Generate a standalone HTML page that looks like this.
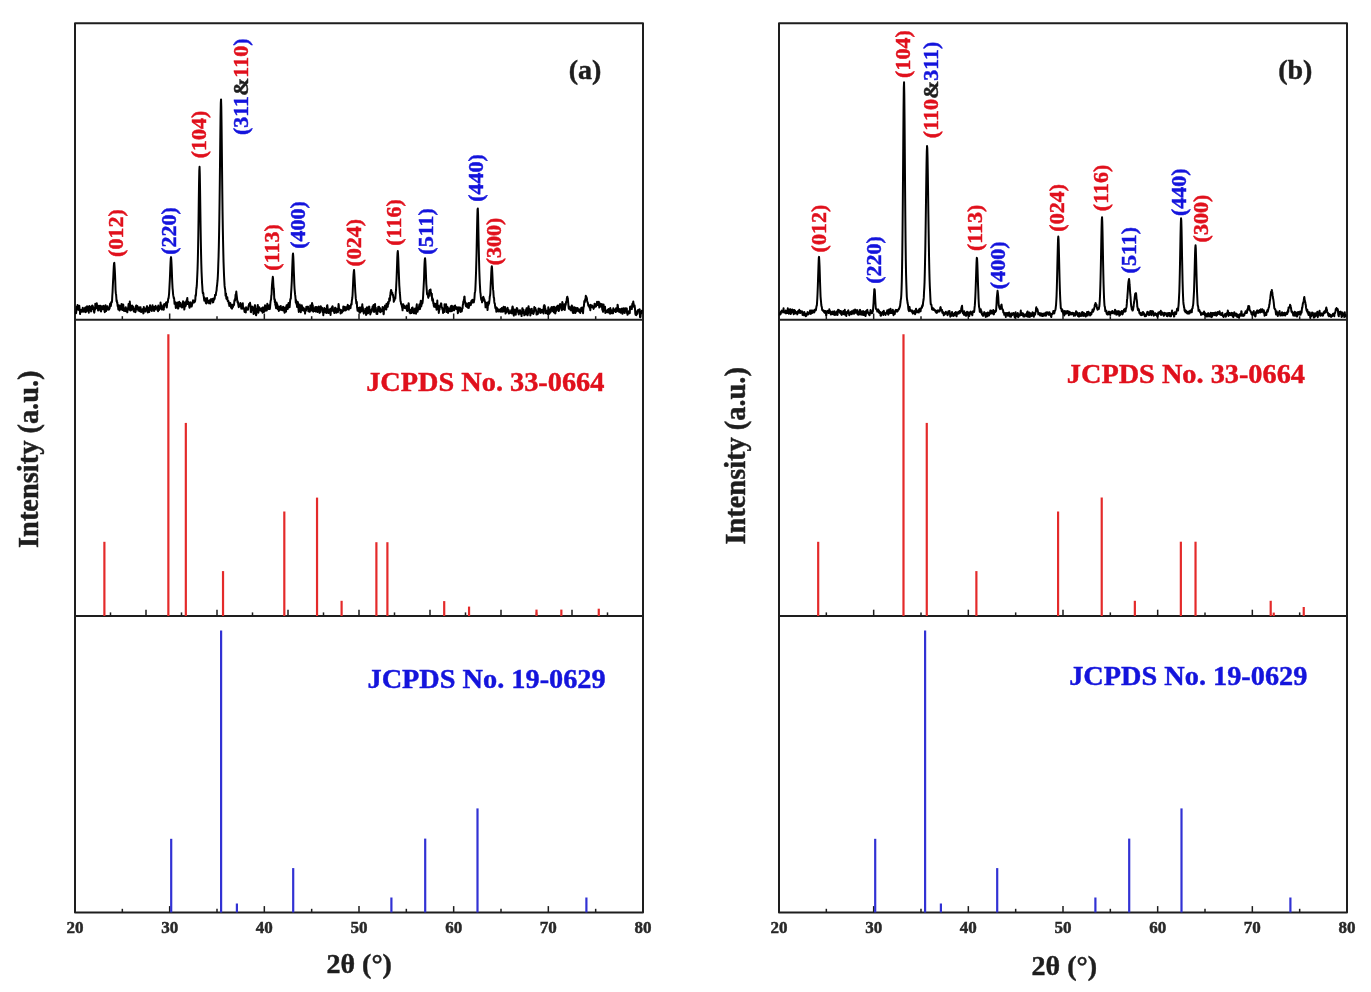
<!DOCTYPE html>
<html><head><meta charset="utf-8"><title>XRD patterns</title>
<style>html,body{margin:0;padding:0;background:#fff;}svg{display:block;will-change:transform;}</style>
</head><body>
<svg width="1371" height="992" viewBox="0 0 1371 992" font-family="'Liberation Serif', serif" font-weight="bold">
<rect width="1371" height="992" fill="#fff"/>
<rect x="75.00" y="23.30" width="568.00" height="889.10" fill="none" stroke="#1e1e1e" stroke-width="2.0" stroke-linejoin="round"/>
<line x1="75.00" y1="319.80" x2="643.00" y2="319.80" stroke="#1e1e1e" stroke-width="1.9" stroke-linecap="butt"/>
<line x1="75.00" y1="616.00" x2="643.00" y2="616.00" stroke="#1e1e1e" stroke-width="1.9" stroke-linecap="butt"/>
<line x1="122.33" y1="319.80" x2="122.33" y2="316.20" stroke="#1e1e1e" stroke-width="1.5" stroke-linecap="butt"/>
<line x1="169.67" y1="319.80" x2="169.67" y2="313.50" stroke="#1e1e1e" stroke-width="1.5" stroke-linecap="butt"/>
<line x1="217.00" y1="319.80" x2="217.00" y2="316.20" stroke="#1e1e1e" stroke-width="1.5" stroke-linecap="butt"/>
<line x1="264.33" y1="319.80" x2="264.33" y2="313.50" stroke="#1e1e1e" stroke-width="1.5" stroke-linecap="butt"/>
<line x1="311.67" y1="319.80" x2="311.67" y2="316.20" stroke="#1e1e1e" stroke-width="1.5" stroke-linecap="butt"/>
<line x1="359.00" y1="319.80" x2="359.00" y2="313.50" stroke="#1e1e1e" stroke-width="1.5" stroke-linecap="butt"/>
<line x1="406.33" y1="319.80" x2="406.33" y2="316.20" stroke="#1e1e1e" stroke-width="1.5" stroke-linecap="butt"/>
<line x1="453.67" y1="319.80" x2="453.67" y2="313.50" stroke="#1e1e1e" stroke-width="1.5" stroke-linecap="butt"/>
<line x1="501.00" y1="319.80" x2="501.00" y2="316.20" stroke="#1e1e1e" stroke-width="1.5" stroke-linecap="butt"/>
<line x1="548.33" y1="319.80" x2="548.33" y2="313.50" stroke="#1e1e1e" stroke-width="1.5" stroke-linecap="butt"/>
<line x1="595.67" y1="319.80" x2="595.67" y2="316.20" stroke="#1e1e1e" stroke-width="1.5" stroke-linecap="butt"/>
<line x1="122.33" y1="912.40" x2="122.33" y2="908.80" stroke="#1e1e1e" stroke-width="1.5" stroke-linecap="butt"/>
<line x1="169.67" y1="912.40" x2="169.67" y2="906.10" stroke="#1e1e1e" stroke-width="1.5" stroke-linecap="butt"/>
<line x1="217.00" y1="912.40" x2="217.00" y2="908.80" stroke="#1e1e1e" stroke-width="1.5" stroke-linecap="butt"/>
<line x1="264.33" y1="912.40" x2="264.33" y2="906.10" stroke="#1e1e1e" stroke-width="1.5" stroke-linecap="butt"/>
<line x1="311.67" y1="912.40" x2="311.67" y2="908.80" stroke="#1e1e1e" stroke-width="1.5" stroke-linecap="butt"/>
<line x1="359.00" y1="912.40" x2="359.00" y2="906.10" stroke="#1e1e1e" stroke-width="1.5" stroke-linecap="butt"/>
<line x1="406.33" y1="912.40" x2="406.33" y2="908.80" stroke="#1e1e1e" stroke-width="1.5" stroke-linecap="butt"/>
<line x1="453.67" y1="912.40" x2="453.67" y2="906.10" stroke="#1e1e1e" stroke-width="1.5" stroke-linecap="butt"/>
<line x1="501.00" y1="912.40" x2="501.00" y2="908.80" stroke="#1e1e1e" stroke-width="1.5" stroke-linecap="butt"/>
<line x1="548.33" y1="912.40" x2="548.33" y2="906.10" stroke="#1e1e1e" stroke-width="1.5" stroke-linecap="butt"/>
<line x1="595.67" y1="912.40" x2="595.67" y2="908.80" stroke="#1e1e1e" stroke-width="1.5" stroke-linecap="butt"/>
<rect x="779.00" y="23.30" width="568.00" height="889.10" fill="none" stroke="#1e1e1e" stroke-width="2.0" stroke-linejoin="round"/>
<line x1="779.00" y1="319.80" x2="1347.00" y2="319.80" stroke="#1e1e1e" stroke-width="1.9" stroke-linecap="butt"/>
<line x1="779.00" y1="616.00" x2="1347.00" y2="616.00" stroke="#1e1e1e" stroke-width="1.9" stroke-linecap="butt"/>
<line x1="826.33" y1="319.80" x2="826.33" y2="316.20" stroke="#1e1e1e" stroke-width="1.5" stroke-linecap="butt"/>
<line x1="873.67" y1="319.80" x2="873.67" y2="313.50" stroke="#1e1e1e" stroke-width="1.5" stroke-linecap="butt"/>
<line x1="921.00" y1="319.80" x2="921.00" y2="316.20" stroke="#1e1e1e" stroke-width="1.5" stroke-linecap="butt"/>
<line x1="968.33" y1="319.80" x2="968.33" y2="313.50" stroke="#1e1e1e" stroke-width="1.5" stroke-linecap="butt"/>
<line x1="1015.67" y1="319.80" x2="1015.67" y2="316.20" stroke="#1e1e1e" stroke-width="1.5" stroke-linecap="butt"/>
<line x1="1063.00" y1="319.80" x2="1063.00" y2="313.50" stroke="#1e1e1e" stroke-width="1.5" stroke-linecap="butt"/>
<line x1="1110.33" y1="319.80" x2="1110.33" y2="316.20" stroke="#1e1e1e" stroke-width="1.5" stroke-linecap="butt"/>
<line x1="1157.67" y1="319.80" x2="1157.67" y2="313.50" stroke="#1e1e1e" stroke-width="1.5" stroke-linecap="butt"/>
<line x1="1205.00" y1="319.80" x2="1205.00" y2="316.20" stroke="#1e1e1e" stroke-width="1.5" stroke-linecap="butt"/>
<line x1="1252.33" y1="319.80" x2="1252.33" y2="313.50" stroke="#1e1e1e" stroke-width="1.5" stroke-linecap="butt"/>
<line x1="1299.67" y1="319.80" x2="1299.67" y2="316.20" stroke="#1e1e1e" stroke-width="1.5" stroke-linecap="butt"/>
<line x1="826.33" y1="912.40" x2="826.33" y2="908.80" stroke="#1e1e1e" stroke-width="1.5" stroke-linecap="butt"/>
<line x1="873.67" y1="912.40" x2="873.67" y2="906.10" stroke="#1e1e1e" stroke-width="1.5" stroke-linecap="butt"/>
<line x1="921.00" y1="912.40" x2="921.00" y2="908.80" stroke="#1e1e1e" stroke-width="1.5" stroke-linecap="butt"/>
<line x1="968.33" y1="912.40" x2="968.33" y2="906.10" stroke="#1e1e1e" stroke-width="1.5" stroke-linecap="butt"/>
<line x1="1015.67" y1="912.40" x2="1015.67" y2="908.80" stroke="#1e1e1e" stroke-width="1.5" stroke-linecap="butt"/>
<line x1="1063.00" y1="912.40" x2="1063.00" y2="906.10" stroke="#1e1e1e" stroke-width="1.5" stroke-linecap="butt"/>
<line x1="1110.33" y1="912.40" x2="1110.33" y2="908.80" stroke="#1e1e1e" stroke-width="1.5" stroke-linecap="butt"/>
<line x1="1157.67" y1="912.40" x2="1157.67" y2="906.10" stroke="#1e1e1e" stroke-width="1.5" stroke-linecap="butt"/>
<line x1="1205.00" y1="912.40" x2="1205.00" y2="908.80" stroke="#1e1e1e" stroke-width="1.5" stroke-linecap="butt"/>
<line x1="1252.33" y1="912.40" x2="1252.33" y2="906.10" stroke="#1e1e1e" stroke-width="1.5" stroke-linecap="butt"/>
<line x1="1299.67" y1="912.40" x2="1299.67" y2="908.80" stroke="#1e1e1e" stroke-width="1.5" stroke-linecap="butt"/>
<line x1="110.50" y1="616.00" x2="110.50" y2="612.40" stroke="#1e1e1e" stroke-width="1.5" stroke-linecap="butt"/>
<line x1="146.00" y1="616.00" x2="146.00" y2="609.70" stroke="#1e1e1e" stroke-width="1.5" stroke-linecap="butt"/>
<line x1="181.50" y1="616.00" x2="181.50" y2="612.40" stroke="#1e1e1e" stroke-width="1.5" stroke-linecap="butt"/>
<line x1="217.00" y1="616.00" x2="217.00" y2="609.70" stroke="#1e1e1e" stroke-width="1.5" stroke-linecap="butt"/>
<line x1="252.50" y1="616.00" x2="252.50" y2="612.40" stroke="#1e1e1e" stroke-width="1.5" stroke-linecap="butt"/>
<line x1="288.00" y1="616.00" x2="288.00" y2="609.70" stroke="#1e1e1e" stroke-width="1.5" stroke-linecap="butt"/>
<line x1="323.50" y1="616.00" x2="323.50" y2="612.40" stroke="#1e1e1e" stroke-width="1.5" stroke-linecap="butt"/>
<line x1="359.00" y1="616.00" x2="359.00" y2="609.70" stroke="#1e1e1e" stroke-width="1.5" stroke-linecap="butt"/>
<line x1="394.50" y1="616.00" x2="394.50" y2="612.40" stroke="#1e1e1e" stroke-width="1.5" stroke-linecap="butt"/>
<line x1="430.00" y1="616.00" x2="430.00" y2="609.70" stroke="#1e1e1e" stroke-width="1.5" stroke-linecap="butt"/>
<line x1="465.50" y1="616.00" x2="465.50" y2="612.40" stroke="#1e1e1e" stroke-width="1.5" stroke-linecap="butt"/>
<line x1="501.00" y1="616.00" x2="501.00" y2="609.70" stroke="#1e1e1e" stroke-width="1.5" stroke-linecap="butt"/>
<line x1="536.50" y1="616.00" x2="536.50" y2="612.40" stroke="#1e1e1e" stroke-width="1.5" stroke-linecap="butt"/>
<line x1="572.00" y1="616.00" x2="572.00" y2="609.70" stroke="#1e1e1e" stroke-width="1.5" stroke-linecap="butt"/>
<line x1="607.50" y1="616.00" x2="607.50" y2="612.40" stroke="#1e1e1e" stroke-width="1.5" stroke-linecap="butt"/>
<line x1="826.33" y1="616.00" x2="826.33" y2="612.40" stroke="#1e1e1e" stroke-width="1.5" stroke-linecap="butt"/>
<line x1="873.67" y1="616.00" x2="873.67" y2="609.70" stroke="#1e1e1e" stroke-width="1.5" stroke-linecap="butt"/>
<line x1="921.00" y1="616.00" x2="921.00" y2="612.40" stroke="#1e1e1e" stroke-width="1.5" stroke-linecap="butt"/>
<line x1="968.33" y1="616.00" x2="968.33" y2="609.70" stroke="#1e1e1e" stroke-width="1.5" stroke-linecap="butt"/>
<line x1="1015.67" y1="616.00" x2="1015.67" y2="612.40" stroke="#1e1e1e" stroke-width="1.5" stroke-linecap="butt"/>
<line x1="1063.00" y1="616.00" x2="1063.00" y2="609.70" stroke="#1e1e1e" stroke-width="1.5" stroke-linecap="butt"/>
<line x1="1110.33" y1="616.00" x2="1110.33" y2="612.40" stroke="#1e1e1e" stroke-width="1.5" stroke-linecap="butt"/>
<line x1="1157.67" y1="616.00" x2="1157.67" y2="609.70" stroke="#1e1e1e" stroke-width="1.5" stroke-linecap="butt"/>
<line x1="1205.00" y1="616.00" x2="1205.00" y2="612.40" stroke="#1e1e1e" stroke-width="1.5" stroke-linecap="butt"/>
<line x1="1252.33" y1="616.00" x2="1252.33" y2="609.70" stroke="#1e1e1e" stroke-width="1.5" stroke-linecap="butt"/>
<line x1="1299.67" y1="616.00" x2="1299.67" y2="612.40" stroke="#1e1e1e" stroke-width="1.5" stroke-linecap="butt"/>
<line x1="818.19" y1="616.00" x2="818.19" y2="541.80" stroke="#e42a2a" stroke-width="2.2" stroke-linecap="butt"/>
<line x1="903.49" y1="616.00" x2="903.49" y2="334.20" stroke="#e42a2a" stroke-width="2.2" stroke-linecap="butt"/>
<line x1="926.77" y1="616.00" x2="926.77" y2="422.90" stroke="#e42a2a" stroke-width="2.2" stroke-linecap="butt"/>
<line x1="976.38" y1="616.00" x2="976.38" y2="571.10" stroke="#e42a2a" stroke-width="2.2" stroke-linecap="butt"/>
<line x1="1058.08" y1="616.00" x2="1058.08" y2="511.50" stroke="#e42a2a" stroke-width="2.2" stroke-linecap="butt"/>
<line x1="1101.72" y1="616.00" x2="1101.72" y2="497.50" stroke="#e42a2a" stroke-width="2.2" stroke-linecap="butt"/>
<line x1="1134.85" y1="616.00" x2="1134.85" y2="600.80" stroke="#e42a2a" stroke-width="2.2" stroke-linecap="butt"/>
<line x1="1180.86" y1="616.00" x2="1180.86" y2="541.70" stroke="#e42a2a" stroke-width="2.2" stroke-linecap="butt"/>
<line x1="1195.53" y1="616.00" x2="1195.53" y2="541.70" stroke="#e42a2a" stroke-width="2.2" stroke-linecap="butt"/>
<line x1="1270.70" y1="616.00" x2="1270.70" y2="600.80" stroke="#e42a2a" stroke-width="2.2" stroke-linecap="butt"/>
<line x1="1273.73" y1="616.00" x2="1273.73" y2="612.60" stroke="#e42a2a" stroke-width="2.2" stroke-linecap="butt"/>
<line x1="1303.74" y1="616.00" x2="1303.74" y2="607.00" stroke="#e42a2a" stroke-width="2.2" stroke-linecap="butt"/>
<line x1="104.39" y1="616.00" x2="104.39" y2="541.80" stroke="#e42a2a" stroke-width="2.2" stroke-linecap="butt"/>
<line x1="168.36" y1="616.00" x2="168.36" y2="334.20" stroke="#e42a2a" stroke-width="2.2" stroke-linecap="butt"/>
<line x1="185.83" y1="616.00" x2="185.83" y2="422.90" stroke="#e42a2a" stroke-width="2.2" stroke-linecap="butt"/>
<line x1="223.03" y1="616.00" x2="223.03" y2="571.10" stroke="#e42a2a" stroke-width="2.2" stroke-linecap="butt"/>
<line x1="284.31" y1="616.00" x2="284.31" y2="511.50" stroke="#e42a2a" stroke-width="2.2" stroke-linecap="butt"/>
<line x1="317.04" y1="616.00" x2="317.04" y2="497.60" stroke="#e42a2a" stroke-width="2.2" stroke-linecap="butt"/>
<line x1="341.60" y1="616.00" x2="341.60" y2="600.80" stroke="#e42a2a" stroke-width="2.2" stroke-linecap="butt"/>
<line x1="376.39" y1="616.00" x2="376.39" y2="542.20" stroke="#e42a2a" stroke-width="2.2" stroke-linecap="butt"/>
<line x1="387.40" y1="616.00" x2="387.40" y2="542.20" stroke="#e42a2a" stroke-width="2.2" stroke-linecap="butt"/>
<line x1="444.20" y1="616.00" x2="444.20" y2="601.10" stroke="#e42a2a" stroke-width="2.2" stroke-linecap="butt"/>
<line x1="469.05" y1="616.00" x2="469.05" y2="606.60" stroke="#e42a2a" stroke-width="2.2" stroke-linecap="butt"/>
<line x1="536.50" y1="616.00" x2="536.50" y2="609.60" stroke="#e42a2a" stroke-width="2.2" stroke-linecap="butt"/>
<line x1="561.35" y1="616.00" x2="561.35" y2="609.60" stroke="#e42a2a" stroke-width="2.2" stroke-linecap="butt"/>
<line x1="598.77" y1="616.00" x2="598.77" y2="608.70" stroke="#e42a2a" stroke-width="2.2" stroke-linecap="butt"/>
<line x1="171.20" y1="912.40" x2="171.20" y2="838.80" stroke="#3232d4" stroke-width="2.2" stroke-linecap="butt"/>
<line x1="221.10" y1="912.40" x2="221.10" y2="630.60" stroke="#3232d4" stroke-width="2.2" stroke-linecap="butt"/>
<line x1="236.90" y1="912.40" x2="236.90" y2="903.50" stroke="#3232d4" stroke-width="2.2" stroke-linecap="butt"/>
<line x1="293.20" y1="912.40" x2="293.20" y2="868.10" stroke="#3232d4" stroke-width="2.2" stroke-linecap="butt"/>
<line x1="391.40" y1="912.40" x2="391.40" y2="897.50" stroke="#3232d4" stroke-width="2.2" stroke-linecap="butt"/>
<line x1="425.20" y1="912.40" x2="425.20" y2="838.60" stroke="#3232d4" stroke-width="2.2" stroke-linecap="butt"/>
<line x1="477.50" y1="912.40" x2="477.50" y2="808.40" stroke="#3232d4" stroke-width="2.2" stroke-linecap="butt"/>
<line x1="586.40" y1="912.40" x2="586.40" y2="897.50" stroke="#3232d4" stroke-width="2.2" stroke-linecap="butt"/>
<line x1="875.20" y1="912.40" x2="875.20" y2="838.80" stroke="#3232d4" stroke-width="2.2" stroke-linecap="butt"/>
<line x1="925.10" y1="912.40" x2="925.10" y2="630.60" stroke="#3232d4" stroke-width="2.2" stroke-linecap="butt"/>
<line x1="940.90" y1="912.40" x2="940.90" y2="903.50" stroke="#3232d4" stroke-width="2.2" stroke-linecap="butt"/>
<line x1="997.20" y1="912.40" x2="997.20" y2="868.10" stroke="#3232d4" stroke-width="2.2" stroke-linecap="butt"/>
<line x1="1095.40" y1="912.40" x2="1095.40" y2="897.50" stroke="#3232d4" stroke-width="2.2" stroke-linecap="butt"/>
<line x1="1129.20" y1="912.40" x2="1129.20" y2="838.60" stroke="#3232d4" stroke-width="2.2" stroke-linecap="butt"/>
<line x1="1181.50" y1="912.40" x2="1181.50" y2="808.40" stroke="#3232d4" stroke-width="2.2" stroke-linecap="butt"/>
<line x1="1290.40" y1="912.40" x2="1290.40" y2="897.50" stroke="#3232d4" stroke-width="2.2" stroke-linecap="butt"/>
<path d="M75.80 311.67 L76.05 313.27 L76.30 311.32 L76.55 308.69 L76.80 306.72 L77.05 307.97 L77.30 306.50 L77.55 304.94 L77.80 307.41 L78.05 308.52 L78.30 309.89 L78.55 307.67 L78.80 308.39 L79.05 308.61 L79.30 305.85 L79.55 308.54 L79.80 309.45 L80.05 314.03 L80.30 311.96 L80.55 310.23 L80.80 312.11 L81.05 310.99 L81.30 311.85 L81.55 309.74 L81.80 309.84 L82.05 311.50 L82.30 311.67 L82.55 310.63 L82.80 307.70 L83.05 309.27 L83.30 309.32 L83.55 310.63 L83.80 310.28 L84.05 311.84 L84.30 310.35 L84.55 310.11 L84.80 310.91 L85.05 307.83 L85.30 307.64 L85.55 307.36 L85.80 312.15 L86.05 310.42 L86.30 311.03 L86.55 311.27 L86.80 309.60 L87.05 306.24 L87.30 309.56 L87.55 308.49 L87.80 310.20 L88.05 307.02 L88.30 307.16 L88.55 310.60 L88.80 312.66 L89.05 308.26 L89.30 306.00 L89.55 307.42 L89.80 309.67 L90.05 309.66 L90.30 309.94 L90.55 307.52 L90.80 309.43 L91.05 311.44 L91.30 309.36 L91.55 306.34 L91.80 306.16 L92.05 309.09 L92.30 305.60 L92.55 307.12 L92.80 306.09 L93.05 307.28 L93.30 307.64 L93.55 308.34 L93.80 311.63 L94.05 311.13 L94.30 312.69 L94.55 310.55 L94.80 308.80 L95.05 309.63 L95.30 303.67 L95.55 306.23 L95.80 307.90 L96.05 305.97 L96.30 308.36 L96.55 307.53 L96.80 303.36 L97.05 305.71 L97.30 305.37 L97.55 306.10 L97.80 307.19 L98.05 310.50 L98.30 309.89 L98.55 309.32 L98.80 309.85 L99.05 305.77 L99.30 309.74 L99.55 307.16 L99.80 308.85 L100.05 306.60 L100.30 305.77 L100.55 306.49 L100.80 311.35 L101.05 311.42 L101.30 308.89 L101.55 308.24 L101.80 306.21 L102.05 307.38 L102.30 306.89 L102.55 309.18 L102.80 306.24 L103.05 306.76 L103.30 306.02 L103.55 305.88 L103.80 308.58 L104.05 308.78 L104.30 309.75 L104.55 311.39 L104.80 312.11 L105.05 307.56 L105.30 308.95 L105.55 305.18 L105.80 306.55 L106.05 311.00 L106.30 309.13 L106.55 307.82 L106.80 308.16 L107.05 307.99 L107.30 307.87 L107.55 306.27 L107.80 308.88 L108.05 309.74 L108.30 308.02 L108.55 308.06 L108.80 308.61 L109.05 309.44 L109.30 308.55 L109.55 308.50 L109.80 306.58 L110.05 304.01 L110.30 303.52 L110.55 305.59 L110.80 306.15 L111.05 304.58 L111.30 302.11 L111.55 301.55 L111.80 302.30 L112.05 300.85 L112.30 295.80 L112.55 292.23 L112.80 286.49 L113.05 281.26 L113.30 276.69 L113.55 270.94 L113.80 266.23 L114.05 263.21 L114.30 262.84 L114.55 266.25 L114.80 270.38 L115.05 275.30 L115.30 281.94 L115.55 289.85 L115.80 293.17 L116.05 294.14 L116.30 297.27 L116.55 301.30 L116.80 300.29 L117.05 302.99 L117.30 302.45 L117.55 305.54 L117.80 306.56 L118.05 306.45 L118.30 309.53 L118.55 307.00 L118.80 305.33 L119.05 309.18 L119.30 306.25 L119.55 310.49 L119.80 308.58 L120.05 305.83 L120.30 306.42 L120.55 307.01 L120.80 307.49 L121.05 307.02 L121.30 309.24 L121.55 303.91 L121.80 304.62 L122.05 305.56 L122.30 310.05 L122.55 304.99 L122.80 305.65 L123.05 304.45 L123.30 304.78 L123.55 307.49 L123.80 308.41 L124.05 310.88 L124.30 308.16 L124.55 308.50 L124.80 310.44 L125.05 310.89 L125.30 308.71 L125.55 310.47 L125.80 307.36 L126.05 311.13 L126.30 309.80 L126.55 308.62 L126.80 308.78 L127.05 309.99 L127.30 312.35 L127.55 309.84 L127.80 308.14 L128.05 309.17 L128.30 306.82 L128.55 304.02 L128.80 307.60 L129.05 307.00 L129.30 309.65 L129.55 306.75 L129.80 301.62 L130.05 305.31 L130.30 306.91 L130.55 310.56 L130.80 310.27 L131.05 309.70 L131.30 309.97 L131.55 308.23 L131.80 308.23 L132.05 305.42 L132.30 307.71 L132.55 306.24 L132.80 306.22 L133.05 308.47 L133.30 310.02 L133.55 307.01 L133.80 311.44 L134.05 308.55 L134.30 309.91 L134.55 310.83 L134.80 309.85 L135.05 309.26 L135.30 312.17 L135.55 311.84 L135.80 310.80 L136.05 305.80 L136.30 305.43 L136.55 309.01 L136.80 308.90 L137.05 306.57 L137.30 306.03 L137.55 306.42 L137.80 308.57 L138.05 309.06 L138.30 310.51 L138.55 307.66 L138.80 309.79 L139.05 307.92 L139.30 307.38 L139.55 311.13 L139.80 309.73 L140.05 308.60 L140.30 307.90 L140.55 307.21 L140.80 310.70 L141.05 312.08 L141.30 311.47 L141.55 310.12 L141.80 311.13 L142.05 309.43 L142.30 309.63 L142.55 309.62 L142.80 309.01 L143.05 311.77 L143.30 313.37 L143.55 313.31 L143.80 306.90 L144.05 311.09 L144.30 310.95 L144.55 308.60 L144.80 308.27 L145.05 310.39 L145.30 311.53 L145.55 311.46 L145.80 310.02 L146.05 309.10 L146.30 310.20 L146.55 308.93 L146.80 306.71 L147.05 306.14 L147.30 306.80 L147.55 308.06 L147.80 312.49 L148.05 307.56 L148.30 308.72 L148.55 308.18 L148.80 308.68 L149.05 311.00 L149.30 311.94 L149.55 309.66 L149.80 307.73 L150.05 305.18 L150.30 306.44 L150.55 309.66 L150.80 308.30 L151.05 309.51 L151.30 310.13 L151.55 309.82 L151.80 311.01 L152.05 309.26 L152.30 306.97 L152.55 305.16 L152.80 308.36 L153.05 307.43 L153.30 307.07 L153.55 309.12 L153.80 306.97 L154.05 310.89 L154.30 310.69 L154.55 308.25 L154.80 306.82 L155.05 309.45 L155.30 306.34 L155.55 305.84 L155.80 306.84 L156.05 307.72 L156.30 307.79 L156.55 308.54 L156.80 307.45 L157.05 307.37 L157.30 310.02 L157.55 310.13 L157.80 308.05 L158.05 311.20 L158.30 305.58 L158.55 306.78 L158.80 308.50 L159.05 309.94 L159.30 308.98 L159.55 307.53 L159.80 308.66 L160.05 307.71 L160.30 308.51 L160.55 302.49 L160.80 305.69 L161.05 305.02 L161.30 307.98 L161.55 309.07 L161.80 309.55 L162.05 307.61 L162.30 308.20 L162.55 307.00 L162.80 307.42 L163.05 306.94 L163.30 305.27 L163.55 309.75 L163.80 309.57 L164.05 304.26 L164.30 307.04 L164.55 304.13 L164.80 304.76 L165.05 304.35 L165.30 304.15 L165.55 305.36 L165.80 304.82 L166.05 302.44 L166.30 303.66 L166.55 304.73 L166.80 307.45 L167.05 304.81 L167.30 301.92 L167.55 301.50 L167.80 302.49 L168.05 299.99 L168.30 298.33 L168.55 298.42 L168.80 296.40 L169.05 294.09 L169.30 289.89 L169.55 285.14 L169.80 280.31 L170.05 274.57 L170.30 267.98 L170.55 262.28 L170.80 258.13 L171.05 257.13 L171.30 259.77 L171.55 264.21 L171.80 269.98 L172.05 277.61 L172.30 283.26 L172.55 288.10 L172.80 290.44 L173.05 293.76 L173.30 295.65 L173.55 296.85 L173.80 298.23 L174.05 297.94 L174.30 300.53 L174.55 303.85 L174.80 302.69 L175.05 303.60 L175.30 302.19 L175.55 304.59 L175.80 307.97 L176.05 304.41 L176.30 304.43 L176.55 307.39 L176.80 307.08 L177.05 306.51 L177.30 302.44 L177.55 303.77 L177.80 306.35 L178.05 308.58 L178.30 308.28 L178.55 305.96 L178.80 304.60 L179.05 301.89 L179.30 301.84 L179.55 305.70 L179.80 305.40 L180.05 303.06 L180.30 306.54 L180.55 302.98 L180.80 306.30 L181.05 305.14 L181.30 305.66 L181.55 306.45 L181.80 306.06 L182.05 307.53 L182.30 306.04 L182.55 304.65 L182.80 303.32 L183.05 301.27 L183.30 301.45 L183.55 304.28 L183.80 305.35 L184.05 306.75 L184.30 309.58 L184.55 307.61 L184.80 306.23 L185.05 302.53 L185.30 302.40 L185.55 306.27 L185.80 305.48 L186.05 304.00 L186.30 303.98 L186.55 300.42 L186.80 300.36 L187.05 299.59 L187.30 297.89 L187.55 301.77 L187.80 304.08 L188.05 303.41 L188.30 303.96 L188.55 302.06 L188.80 303.53 L189.05 304.81 L189.30 306.75 L189.55 307.79 L189.80 306.55 L190.05 304.93 L190.30 302.96 L190.55 302.34 L190.80 304.04 L191.05 304.77 L191.30 304.21 L191.55 306.58 L191.80 306.04 L192.05 304.67 L192.30 303.57 L192.55 303.35 L192.80 301.49 L193.05 300.38 L193.30 301.79 L193.55 300.84 L193.80 300.65 L194.05 302.59 L194.30 301.11 L194.55 302.26 L194.80 300.48 L195.05 301.29 L195.30 299.62 L195.55 295.15 L195.80 296.12 L196.05 293.74 L196.30 289.29 L196.55 288.03 L196.80 285.43 L197.05 280.14 L197.30 274.92 L197.55 268.92 L197.80 260.89 L198.05 249.62 L198.30 235.61 L198.55 218.98 L198.80 199.52 L199.05 182.50 L199.30 170.68 L199.55 166.83 L199.80 174.58 L200.05 189.63 L200.30 207.08 L200.55 224.57 L200.80 239.75 L201.05 252.98 L201.30 263.53 L201.55 271.82 L201.80 277.32 L202.05 283.05 L202.30 286.55 L202.55 290.78 L202.80 293.08 L203.05 292.70 L203.30 293.03 L203.55 295.64 L203.80 296.62 L204.05 298.80 L204.30 300.71 L204.55 300.81 L204.80 298.52 L205.05 298.26 L205.30 300.97 L205.55 299.98 L205.80 302.95 L206.05 302.66 L206.30 303.56 L206.55 301.84 L206.80 302.27 L207.05 297.94 L207.30 300.20 L207.55 302.60 L207.80 301.43 L208.05 300.93 L208.30 301.92 L208.55 302.58 L208.80 301.48 L209.05 303.27 L209.30 300.42 L209.55 303.35 L209.80 300.78 L210.05 300.37 L210.30 303.53 L210.55 301.40 L210.80 299.27 L211.05 300.88 L211.30 300.08 L211.55 299.34 L211.80 299.56 L212.05 299.54 L212.30 299.11 L212.55 298.73 L212.80 302.46 L213.05 300.73 L213.30 302.19 L213.55 299.21 L213.80 300.43 L214.05 298.19 L214.30 297.99 L214.55 299.16 L214.80 297.77 L215.05 294.75 L215.30 294.78 L215.55 294.83 L215.80 295.20 L216.05 292.74 L216.30 291.63 L216.55 290.60 L216.80 287.10 L217.05 285.80 L217.30 282.85 L217.55 280.70 L217.80 276.69 L218.05 271.67 L218.30 263.79 L218.55 256.92 L218.80 247.46 L219.05 235.25 L219.30 220.71 L219.55 202.90 L219.80 182.87 L220.05 160.49 L220.30 137.35 L220.55 116.44 L220.80 102.87 L221.05 99.39 L221.30 107.04 L221.55 124.22 L221.80 146.01 L222.05 169.53 L222.30 191.91 L222.55 211.82 L222.80 227.89 L223.05 240.55 L223.30 251.97 L223.55 262.14 L223.80 269.18 L224.05 275.80 L224.30 280.57 L224.55 285.15 L224.80 287.76 L225.05 288.71 L225.30 291.24 L225.55 295.75 L225.80 295.06 L226.05 293.51 L226.30 298.31 L226.55 299.00 L226.80 298.31 L227.05 298.30 L227.30 297.24 L227.55 300.24 L227.80 301.19 L228.05 300.72 L228.30 300.99 L228.55 301.30 L228.80 303.97 L229.05 303.50 L229.30 305.91 L229.55 303.66 L229.80 303.00 L230.05 302.97 L230.30 302.95 L230.55 303.77 L230.80 306.12 L231.05 307.68 L231.30 304.66 L231.55 307.17 L231.80 306.45 L232.05 308.66 L232.30 306.76 L232.55 304.66 L232.80 306.36 L233.05 306.87 L233.30 305.20 L233.55 305.06 L233.80 305.00 L234.05 305.01 L234.30 301.38 L234.55 300.02 L234.80 300.74 L235.05 300.62 L235.30 298.48 L235.55 294.74 L235.80 295.97 L236.05 293.66 L236.30 291.53 L236.55 294.29 L236.80 296.38 L237.05 298.68 L237.30 300.76 L237.55 302.34 L237.80 301.47 L238.05 303.01 L238.30 304.70 L238.55 306.32 L238.80 307.11 L239.05 305.11 L239.30 304.91 L239.55 305.40 L239.80 305.99 L240.05 305.14 L240.30 303.03 L240.55 303.14 L240.80 306.05 L241.05 306.97 L241.30 308.58 L241.55 304.83 L241.80 305.73 L242.05 308.66 L242.30 304.80 L242.55 304.55 L242.80 303.34 L243.05 308.20 L243.30 308.42 L243.55 307.41 L243.80 308.30 L244.05 308.30 L244.30 310.22 L244.55 311.71 L244.80 311.98 L245.05 311.04 L245.30 311.39 L245.55 311.68 L245.80 312.51 L246.05 307.18 L246.30 308.72 L246.55 308.98 L246.80 309.29 L247.05 308.66 L247.30 308.70 L247.55 309.82 L247.80 309.82 L248.05 309.70 L248.30 307.32 L248.55 305.79 L248.80 306.01 L249.05 304.13 L249.30 305.65 L249.55 305.77 L249.80 304.00 L250.05 302.85 L250.30 305.12 L250.55 306.05 L250.80 311.87 L251.05 312.24 L251.30 309.24 L251.55 308.29 L251.80 306.83 L252.05 306.54 L252.30 307.25 L252.55 308.19 L252.80 307.55 L253.05 310.05 L253.30 310.96 L253.55 313.97 L253.80 309.13 L254.05 310.57 L254.30 309.25 L254.55 306.20 L254.80 307.22 L255.05 305.12 L255.30 307.22 L255.55 313.65 L255.80 314.08 L256.05 315.31 L256.30 314.70 L256.55 309.06 L256.80 310.06 L257.05 310.04 L257.30 310.60 L257.55 308.01 L257.80 304.88 L258.05 311.27 L258.30 312.69 L258.55 311.68 L258.80 309.62 L259.05 309.90 L259.30 307.28 L259.55 310.24 L259.80 310.18 L260.05 309.53 L260.30 308.66 L260.55 308.93 L260.80 309.44 L261.05 308.66 L261.30 310.91 L261.55 310.57 L261.80 309.80 L262.05 307.92 L262.30 311.00 L262.55 312.69 L262.80 312.34 L263.05 307.27 L263.30 307.61 L263.55 310.35 L263.80 309.87 L264.05 311.99 L264.30 309.74 L264.55 310.97 L264.80 311.04 L265.05 305.37 L265.30 306.41 L265.55 307.23 L265.80 306.87 L266.05 306.16 L266.30 310.46 L266.55 309.33 L266.80 310.43 L267.05 306.93 L267.30 303.76 L267.55 305.10 L267.80 307.32 L268.05 306.25 L268.30 307.90 L268.55 309.07 L268.80 307.24 L269.05 306.85 L269.30 305.24 L269.55 307.31 L269.80 309.09 L270.05 307.33 L270.30 304.26 L270.55 301.71 L270.80 300.15 L271.05 299.73 L271.30 295.69 L271.55 294.51 L271.80 288.53 L272.05 284.59 L272.30 281.74 L272.55 279.48 L272.80 276.86 L273.05 278.46 L273.30 283.53 L273.55 287.59 L273.80 288.27 L274.05 292.86 L274.30 299.22 L274.55 298.87 L274.80 302.27 L275.05 300.06 L275.30 305.02 L275.55 304.01 L275.80 306.47 L276.05 308.15 L276.30 302.77 L276.55 302.50 L276.80 305.60 L277.05 303.95 L277.30 305.91 L277.55 305.28 L277.80 309.23 L278.05 307.87 L278.30 306.48 L278.55 308.72 L278.80 310.97 L279.05 309.55 L279.30 309.69 L279.55 310.19 L279.80 308.60 L280.05 306.51 L280.30 308.73 L280.55 308.18 L280.80 305.99 L281.05 309.12 L281.30 309.89 L281.55 309.72 L281.80 307.94 L282.05 308.06 L282.30 309.70 L282.55 310.28 L282.80 308.07 L283.05 306.82 L283.30 308.54 L283.55 309.09 L283.80 310.60 L284.05 307.55 L284.30 309.93 L284.55 312.68 L284.80 312.49 L285.05 310.82 L285.30 311.41 L285.55 307.56 L285.80 307.18 L286.05 311.59 L286.30 306.88 L286.55 305.37 L286.80 308.18 L287.05 306.80 L287.30 306.19 L287.55 304.79 L287.80 308.99 L288.05 306.86 L288.30 306.22 L288.55 303.07 L288.80 305.74 L289.05 305.46 L289.30 305.83 L289.55 307.34 L289.80 305.26 L290.05 301.55 L290.30 299.27 L290.55 298.72 L290.80 298.68 L291.05 293.64 L291.30 290.16 L291.55 285.76 L291.80 280.93 L292.05 273.30 L292.30 266.55 L292.55 260.17 L292.80 254.97 L293.05 253.53 L293.30 256.78 L293.55 262.91 L293.80 270.82 L294.05 276.45 L294.30 284.01 L294.55 288.55 L294.80 291.29 L295.05 294.43 L295.30 295.95 L295.55 298.78 L295.80 302.59 L296.05 299.96 L296.30 300.53 L296.55 304.25 L296.80 304.64 L297.05 306.89 L297.30 304.57 L297.55 305.74 L297.80 301.96 L298.05 303.26 L298.30 306.86 L298.55 309.64 L298.80 311.90 L299.05 310.02 L299.30 307.62 L299.55 307.38 L299.80 304.45 L300.05 309.14 L300.30 311.21 L300.55 308.36 L300.80 312.15 L301.05 308.05 L301.30 309.65 L301.55 307.88 L301.80 305.23 L302.05 308.01 L302.30 306.44 L302.55 310.20 L302.80 308.07 L303.05 308.95 L303.30 308.28 L303.55 309.15 L303.80 308.11 L304.05 310.42 L304.30 311.18 L304.55 310.52 L304.80 309.82 L305.05 313.56 L305.30 310.26 L305.55 309.11 L305.80 310.90 L306.05 310.28 L306.30 306.81 L306.55 307.99 L306.80 308.12 L307.05 306.99 L307.30 308.76 L307.55 307.04 L307.80 307.92 L308.05 306.63 L308.30 311.28 L308.55 309.99 L308.80 310.78 L309.05 310.87 L309.30 311.74 L309.55 310.50 L309.80 311.66 L310.05 311.00 L310.30 305.62 L310.55 308.36 L310.80 306.58 L311.05 310.10 L311.30 310.42 L311.55 309.42 L311.80 304.69 L312.05 303.08 L312.30 304.17 L312.55 306.29 L312.80 305.38 L313.05 311.56 L313.30 311.64 L313.55 310.60 L313.80 308.32 L314.05 308.45 L314.30 308.72 L314.55 308.45 L314.80 309.04 L315.05 311.07 L315.30 307.03 L315.55 308.93 L315.80 311.61 L316.05 308.07 L316.30 308.63 L316.55 308.53 L316.80 306.98 L317.05 310.34 L317.30 309.49 L317.55 311.98 L317.80 311.78 L318.05 310.31 L318.30 310.70 L318.55 309.58 L318.80 306.52 L319.05 311.05 L319.30 311.22 L319.55 312.87 L319.80 307.83 L320.05 310.96 L320.30 312.08 L320.55 310.94 L320.80 306.25 L321.05 308.30 L321.30 307.80 L321.55 308.49 L321.80 309.33 L322.05 307.85 L322.30 308.64 L322.55 309.32 L322.80 312.52 L323.05 311.03 L323.30 315.14 L323.55 310.20 L323.80 309.80 L324.05 312.32 L324.30 308.02 L324.55 310.21 L324.80 310.85 L325.05 309.20 L325.30 309.10 L325.55 312.58 L325.80 310.38 L326.05 310.71 L326.30 311.19 L326.55 312.96 L326.80 307.36 L327.05 305.75 L327.30 305.20 L327.55 307.02 L327.80 309.70 L328.05 311.48 L328.30 310.15 L328.55 313.05 L328.80 311.36 L329.05 312.03 L329.30 309.49 L329.55 311.38 L329.80 309.25 L330.05 311.90 L330.30 312.64 L330.55 315.00 L330.80 311.64 L331.05 308.51 L331.30 310.88 L331.55 311.05 L331.80 309.46 L332.05 307.07 L332.30 310.10 L332.55 306.18 L332.80 307.15 L333.05 310.67 L333.30 309.82 L333.55 310.80 L333.80 311.35 L334.05 311.83 L334.30 312.99 L334.55 312.77 L334.80 310.62 L335.05 307.86 L335.30 308.34 L335.55 307.85 L335.80 309.70 L336.05 312.25 L336.30 312.65 L336.55 309.92 L336.80 310.33 L337.05 310.14 L337.30 309.11 L337.55 312.08 L337.80 312.22 L338.05 311.78 L338.30 308.44 L338.55 304.00 L338.80 305.51 L339.05 309.95 L339.30 309.50 L339.55 309.64 L339.80 309.24 L340.05 310.50 L340.30 310.17 L340.55 313.38 L340.80 311.37 L341.05 310.09 L341.30 312.75 L341.55 312.75 L341.80 312.64 L342.05 312.25 L342.30 310.93 L342.55 310.97 L342.80 311.40 L343.05 310.77 L343.30 306.57 L343.55 310.81 L343.80 309.30 L344.05 308.36 L344.30 308.32 L344.55 307.55 L344.80 306.85 L345.05 308.02 L345.30 310.46 L345.55 309.38 L345.80 310.30 L346.05 307.22 L346.30 309.71 L346.55 307.29 L346.80 309.57 L347.05 307.91 L347.30 307.32 L347.55 305.74 L347.80 304.88 L348.05 306.38 L348.30 305.65 L348.55 306.63 L348.80 309.55 L349.05 307.24 L349.30 306.96 L349.55 307.08 L349.80 306.06 L350.05 306.42 L350.30 306.84 L350.55 308.16 L350.80 305.45 L351.05 304.55 L351.30 303.66 L351.55 304.64 L351.80 300.81 L352.05 299.46 L352.30 298.01 L352.55 295.05 L352.80 289.77 L353.05 284.31 L353.30 278.28 L353.55 274.31 L353.80 271.53 L354.05 269.94 L354.30 273.37 L354.55 277.63 L354.80 282.31 L355.05 286.71 L355.30 291.85 L355.55 295.00 L355.80 298.68 L356.05 300.01 L356.30 303.55 L356.55 301.69 L356.80 301.90 L357.05 307.02 L357.30 308.66 L357.55 310.75 L357.80 307.73 L358.05 309.03 L358.30 310.31 L358.55 310.92 L358.80 309.32 L359.05 311.64 L359.30 310.93 L359.55 307.45 L359.80 312.79 L360.05 311.15 L360.30 312.50 L360.55 309.52 L360.80 307.61 L361.05 310.14 L361.30 311.32 L361.55 308.95 L361.80 309.68 L362.05 307.04 L362.30 304.33 L362.55 309.06 L362.80 307.13 L363.05 309.83 L363.30 311.82 L363.55 311.48 L363.80 313.55 L364.05 312.36 L364.30 311.64 L364.55 310.72 L364.80 311.09 L365.05 311.15 L365.30 308.67 L365.55 309.17 L365.80 308.79 L366.05 314.89 L366.30 314.79 L366.55 310.81 L366.80 311.53 L367.05 307.30 L367.30 308.73 L367.55 312.89 L367.80 311.58 L368.05 313.28 L368.30 310.90 L368.55 311.33 L368.80 311.39 L369.05 306.39 L369.30 306.62 L369.55 312.01 L369.80 309.37 L370.05 312.04 L370.30 314.39 L370.55 312.10 L370.80 313.02 L371.05 312.23 L371.30 309.95 L371.55 311.12 L371.80 311.42 L372.05 308.78 L372.30 308.52 L372.55 306.62 L372.80 307.65 L373.05 308.74 L373.30 307.45 L373.55 305.07 L373.80 308.85 L374.05 311.89 L374.30 309.16 L374.55 309.71 L374.80 308.53 L375.05 304.10 L375.30 311.16 L375.55 311.12 L375.80 307.78 L376.05 311.33 L376.30 312.04 L376.55 313.73 L376.80 313.25 L377.05 312.60 L377.30 314.04 L377.55 311.42 L377.80 311.10 L378.05 308.36 L378.30 306.87 L378.55 308.75 L378.80 309.73 L379.05 306.68 L379.30 308.94 L379.55 311.30 L379.80 308.08 L380.05 308.23 L380.30 312.26 L380.55 309.31 L380.80 310.55 L381.05 311.57 L381.30 310.89 L381.55 310.47 L381.80 311.05 L382.05 310.78 L382.30 310.35 L382.55 307.02 L382.80 308.60 L383.05 307.40 L383.30 311.11 L383.55 314.28 L383.80 313.73 L384.05 307.27 L384.30 309.92 L384.55 309.54 L384.80 307.05 L385.05 305.52 L385.30 308.91 L385.55 307.38 L385.80 307.58 L386.05 307.85 L386.30 309.46 L386.55 303.65 L386.80 307.61 L387.05 305.81 L387.30 305.45 L387.55 306.83 L387.80 306.82 L388.05 302.05 L388.30 304.20 L388.55 303.63 L388.80 301.53 L389.05 300.66 L389.30 298.22 L389.55 299.82 L389.80 300.77 L390.05 297.58 L390.30 295.48 L390.55 292.51 L390.80 291.36 L391.05 289.98 L391.30 290.29 L391.55 292.44 L391.80 293.10 L392.05 293.91 L392.30 292.69 L392.55 294.84 L392.80 294.64 L393.05 294.79 L393.30 297.35 L393.55 297.88 L393.80 301.82 L394.05 300.80 L394.30 299.55 L394.55 300.16 L394.80 297.52 L395.05 298.10 L395.30 298.64 L395.55 295.53 L395.80 292.00 L396.05 289.98 L396.30 283.97 L396.55 279.21 L396.80 272.25 L397.05 265.42 L397.30 257.73 L397.55 252.88 L397.80 251.10 L398.05 254.20 L398.30 259.06 L398.55 266.53 L398.80 272.34 L399.05 278.84 L399.30 285.36 L399.55 288.64 L399.80 292.95 L400.05 295.12 L400.30 298.79 L400.55 301.48 L400.80 301.75 L401.05 303.98 L401.30 303.53 L401.55 304.63 L401.80 306.09 L402.05 307.10 L402.30 307.85 L402.55 310.30 L402.80 307.61 L403.05 307.21 L403.30 304.14 L403.55 307.48 L403.80 305.67 L404.05 305.77 L404.30 306.03 L404.55 307.92 L404.80 307.63 L405.05 307.53 L405.30 308.19 L405.55 307.79 L405.80 308.21 L406.05 306.66 L406.30 306.71 L406.55 305.51 L406.80 308.83 L407.05 310.60 L407.30 311.06 L407.55 310.69 L407.80 308.74 L408.05 309.98 L408.30 306.62 L408.55 303.13 L408.80 303.89 L409.05 309.39 L409.30 309.77 L409.55 312.45 L409.80 309.49 L410.05 311.30 L410.30 313.31 L410.55 313.17 L410.80 311.76 L411.05 312.57 L411.30 310.05 L411.55 313.02 L411.80 308.94 L412.05 307.64 L412.30 308.49 L412.55 307.40 L412.80 311.66 L413.05 311.71 L413.30 309.06 L413.55 312.31 L413.80 313.32 L414.05 310.50 L414.30 312.78 L414.55 313.18 L414.80 310.16 L415.05 308.53 L415.30 309.34 L415.55 311.31 L415.80 313.07 L416.05 313.79 L416.30 310.37 L416.55 306.20 L416.80 304.27 L417.05 309.26 L417.30 310.85 L417.55 311.84 L417.80 310.07 L418.05 309.30 L418.30 309.59 L418.55 309.62 L418.80 308.86 L419.05 306.50 L419.30 304.52 L419.55 306.17 L419.80 306.31 L420.05 309.02 L420.30 305.83 L420.55 302.50 L420.80 300.71 L421.05 302.85 L421.30 306.41 L421.55 304.47 L421.80 302.50 L422.05 302.63 L422.30 303.64 L422.55 302.41 L422.80 300.19 L423.05 297.50 L423.30 292.65 L423.55 288.22 L423.80 283.32 L424.05 278.62 L424.30 269.44 L424.55 263.37 L424.80 259.60 L425.05 258.22 L425.30 260.54 L425.55 265.38 L425.80 270.80 L426.05 277.55 L426.30 283.96 L426.55 287.20 L426.80 290.76 L427.05 294.09 L427.30 294.08 L427.55 294.90 L427.80 293.75 L428.05 296.63 L428.30 297.88 L428.55 295.63 L428.80 296.64 L429.05 295.11 L429.30 290.63 L429.55 290.59 L429.80 289.94 L430.05 289.79 L430.30 290.10 L430.55 289.50 L430.80 291.66 L431.05 292.66 L431.30 295.93 L431.55 296.00 L431.80 293.66 L432.05 298.95 L432.30 300.47 L432.55 298.30 L432.80 299.39 L433.05 300.01 L433.30 303.37 L433.55 302.87 L433.80 305.79 L434.05 304.71 L434.30 306.82 L434.55 305.34 L434.80 303.68 L435.05 306.10 L435.30 305.95 L435.55 307.30 L435.80 304.14 L436.05 303.71 L436.30 304.80 L436.55 309.67 L436.80 309.27 L437.05 305.25 L437.30 300.52 L437.55 307.53 L437.80 308.22 L438.05 305.59 L438.30 308.54 L438.55 309.79 L438.80 312.89 L439.05 310.76 L439.30 308.39 L439.55 309.73 L439.80 306.27 L440.05 306.27 L440.30 305.22 L440.55 305.52 L440.80 304.31 L441.05 303.39 L441.30 303.59 L441.55 306.58 L441.80 307.39 L442.05 307.59 L442.30 308.75 L442.55 309.87 L442.80 309.91 L443.05 313.02 L443.30 311.11 L443.55 310.35 L443.80 308.27 L444.05 310.29 L444.30 311.97 L444.55 304.26 L444.80 307.76 L445.05 305.78 L445.30 307.63 L445.55 308.03 L445.80 305.62 L446.05 304.23 L446.30 305.68 L446.55 312.02 L446.80 307.66 L447.05 307.11 L447.30 307.06 L447.55 307.08 L447.80 309.81 L448.05 313.00 L448.30 310.49 L448.55 310.14 L448.80 308.51 L449.05 311.41 L449.30 309.68 L449.55 310.26 L449.80 308.83 L450.05 310.70 L450.30 309.30 L450.55 307.08 L450.80 311.35 L451.05 305.95 L451.30 307.39 L451.55 307.08 L451.80 305.83 L452.05 311.07 L452.30 310.27 L452.55 308.40 L452.80 306.53 L453.05 307.99 L453.30 308.05 L453.55 307.61 L453.80 306.56 L454.05 310.31 L454.30 309.63 L454.55 308.49 L454.80 305.84 L455.05 305.44 L455.30 308.18 L455.55 306.65 L455.80 308.62 L456.05 308.10 L456.30 308.83 L456.55 309.09 L456.80 307.69 L457.05 307.31 L457.30 307.50 L457.55 308.99 L457.80 313.13 L458.05 312.20 L458.30 307.49 L458.55 311.96 L458.80 309.66 L459.05 307.37 L459.30 307.80 L459.55 307.64 L459.80 308.14 L460.05 307.82 L460.30 307.63 L460.55 309.98 L460.80 311.92 L461.05 309.79 L461.30 311.49 L461.55 311.01 L461.80 311.15 L462.05 309.35 L462.30 308.17 L462.55 308.40 L462.80 304.98 L463.05 304.56 L463.30 301.58 L463.55 302.38 L463.80 300.30 L464.05 298.75 L464.30 296.77 L464.55 296.57 L464.80 300.50 L465.05 301.48 L465.30 302.84 L465.55 304.26 L465.80 305.93 L466.05 306.17 L466.30 304.37 L466.55 303.47 L466.80 306.83 L467.05 306.09 L467.30 305.86 L467.55 304.56 L467.80 307.25 L468.05 307.72 L468.30 306.07 L468.55 303.04 L468.80 307.97 L469.05 306.05 L469.30 303.95 L469.55 304.07 L469.80 302.91 L470.05 304.31 L470.30 303.97 L470.55 302.60 L470.80 305.15 L471.05 303.61 L471.30 300.99 L471.55 303.39 L471.80 302.91 L472.05 301.59 L472.30 299.80 L472.55 300.33 L472.80 300.51 L473.05 300.51 L473.30 300.14 L473.55 302.26 L473.80 302.44 L474.05 300.79 L474.30 299.57 L474.55 296.63 L474.80 292.79 L475.05 291.91 L475.30 290.36 L475.55 284.75 L475.80 278.81 L476.05 271.78 L476.30 262.74 L476.55 253.37 L476.80 240.75 L477.05 228.80 L477.30 217.49 L477.55 209.42 L477.80 208.40 L478.05 214.32 L478.30 226.03 L478.55 238.84 L478.80 250.21 L479.05 260.64 L479.30 270.33 L479.55 277.05 L479.80 283.21 L480.05 287.62 L480.30 292.27 L480.55 293.69 L480.80 296.40 L481.05 298.31 L481.30 299.90 L481.55 298.66 L481.80 299.00 L482.05 302.36 L482.30 300.26 L482.55 298.62 L482.80 298.81 L483.05 297.13 L483.30 296.84 L483.55 297.47 L483.80 298.23 L484.05 300.77 L484.30 299.33 L484.55 300.25 L484.80 301.69 L485.05 301.84 L485.30 303.76 L485.55 307.32 L485.80 303.99 L486.05 302.76 L486.30 302.81 L486.55 302.84 L486.80 302.88 L487.05 304.50 L487.30 307.46 L487.55 310.04 L487.80 307.02 L488.05 302.15 L488.30 305.37 L488.55 304.18 L488.80 302.54 L489.05 303.51 L489.30 301.46 L489.55 299.38 L489.80 296.31 L490.05 295.58 L490.30 293.03 L490.55 287.46 L490.80 282.33 L491.05 278.48 L491.30 272.27 L491.55 268.08 L491.80 266.23 L492.05 268.04 L492.30 273.11 L492.55 278.33 L492.80 284.60 L493.05 289.63 L493.30 290.83 L493.55 294.91 L493.80 297.95 L494.05 297.88 L494.30 301.93 L494.55 303.20 L494.80 303.46 L495.05 305.54 L495.30 307.60 L495.55 308.47 L495.80 306.93 L496.05 307.15 L496.30 311.81 L496.55 307.61 L496.80 308.05 L497.05 308.29 L497.30 311.19 L497.55 311.10 L497.80 310.41 L498.05 309.16 L498.30 311.46 L498.55 310.48 L498.80 309.73 L499.05 309.90 L499.30 311.01 L499.55 310.38 L499.80 310.52 L500.05 311.65 L500.30 309.33 L500.55 309.12 L500.80 309.63 L501.05 311.09 L501.30 311.60 L501.55 309.87 L501.80 307.95 L502.05 308.28 L502.30 308.22 L502.55 310.89 L502.80 311.75 L503.05 311.08 L503.30 308.55 L503.55 306.84 L503.80 308.78 L504.05 310.71 L504.30 311.23 L504.55 310.27 L504.80 311.41 L505.05 307.03 L505.30 310.93 L505.55 313.59 L505.80 312.33 L506.05 311.83 L506.30 310.72 L506.55 312.33 L506.80 309.59 L507.05 308.89 L507.30 310.46 L507.55 307.68 L507.80 310.05 L508.05 311.18 L508.30 310.82 L508.55 309.70 L508.80 313.55 L509.05 310.99 L509.30 311.08 L509.55 312.41 L509.80 311.46 L510.05 313.09 L510.30 311.84 L510.55 311.73 L510.80 311.15 L511.05 312.18 L511.30 310.13 L511.55 312.14 L511.80 313.42 L512.05 309.98 L512.30 307.37 L512.55 306.40 L512.80 306.96 L513.05 310.18 L513.30 310.56 L513.55 314.34 L513.80 315.63 L514.05 310.14 L514.30 309.66 L514.55 309.59 L514.80 313.32 L515.05 313.57 L515.30 313.98 L515.55 310.75 L515.80 314.76 L516.05 310.57 L516.30 310.72 L516.55 308.83 L516.80 308.02 L517.05 309.89 L517.30 308.56 L517.55 311.02 L517.80 311.93 L518.05 311.47 L518.30 312.39 L518.55 313.82 L518.80 314.46 L519.05 310.38 L519.30 311.88 L519.55 313.11 L519.80 311.22 L520.05 310.25 L520.30 312.93 L520.55 313.18 L520.80 312.27 L521.05 314.39 L521.30 314.45 L521.55 316.08 L521.80 312.69 L522.05 313.72 L522.30 308.36 L522.55 308.33 L522.80 312.90 L523.05 309.96 L523.30 310.11 L523.55 309.80 L523.80 311.28 L524.05 313.34 L524.30 315.28 L524.55 312.78 L524.80 312.50 L525.05 313.43 L525.30 314.45 L525.55 312.12 L525.80 314.19 L526.05 309.69 L526.30 310.85 L526.55 308.15 L526.80 308.61 L527.05 308.19 L527.30 313.06 L527.55 315.30 L527.80 314.65 L528.05 313.10 L528.30 308.14 L528.55 306.16 L528.80 308.91 L529.05 311.36 L529.30 312.16 L529.55 310.10 L529.80 308.98 L530.05 311.03 L530.30 315.48 L530.55 314.65 L530.80 312.72 L531.05 311.61 L531.30 312.15 L531.55 312.16 L531.80 308.72 L532.05 312.89 L532.30 312.82 L532.55 312.99 L532.80 311.08 L533.05 313.21 L533.30 314.09 L533.55 311.08 L533.80 313.05 L534.05 310.59 L534.30 307.12 L534.55 310.70 L534.80 308.86 L535.05 308.82 L535.30 308.04 L535.55 309.35 L535.80 309.45 L536.05 310.52 L536.30 311.67 L536.55 314.55 L536.80 313.66 L537.05 313.32 L537.30 313.11 L537.55 313.64 L537.80 314.09 L538.05 313.09 L538.30 309.73 L538.55 308.45 L538.80 310.27 L539.05 309.99 L539.30 309.67 L539.55 309.29 L539.80 308.70 L540.05 311.99 L540.30 313.02 L540.55 309.48 L540.80 310.59 L541.05 310.73 L541.30 309.93 L541.55 312.51 L541.80 312.35 L542.05 311.79 L542.30 309.67 L542.55 312.18 L542.80 312.04 L543.05 312.04 L543.30 310.12 L543.55 313.47 L543.80 306.10 L544.05 305.77 L544.30 305.07 L544.55 305.44 L544.80 306.15 L545.05 307.52 L545.30 308.55 L545.55 310.10 L545.80 313.14 L546.05 313.11 L546.30 312.23 L546.55 311.24 L546.80 311.78 L547.05 312.89 L547.30 310.42 L547.55 314.04 L547.80 312.39 L548.05 313.26 L548.30 307.22 L548.55 309.36 L548.80 309.29 L549.05 312.67 L549.30 313.66 L549.55 312.80 L549.80 312.95 L550.05 311.19 L550.30 309.15 L550.55 312.09 L550.80 309.00 L551.05 308.75 L551.30 307.37 L551.55 307.09 L551.80 307.97 L552.05 310.79 L552.30 308.70 L552.55 310.90 L552.80 307.01 L553.05 307.00 L553.30 306.91 L553.55 309.74 L553.80 312.37 L554.05 306.75 L554.30 308.42 L554.55 312.11 L554.80 310.90 L555.05 313.27 L555.30 313.47 L555.55 311.88 L555.80 307.92 L556.05 307.25 L556.30 310.87 L556.55 308.17 L556.80 306.40 L557.05 306.58 L557.30 309.66 L557.55 309.03 L557.80 305.77 L558.05 305.65 L558.30 307.78 L558.55 309.59 L558.80 311.06 L559.05 309.98 L559.30 309.32 L559.55 306.52 L559.80 305.79 L560.05 304.06 L560.30 305.27 L560.55 306.82 L560.80 307.01 L561.05 305.46 L561.30 307.30 L561.55 308.85 L561.80 310.21 L562.05 305.11 L562.30 302.12 L562.55 302.93 L562.80 306.14 L563.05 308.58 L563.30 309.25 L563.55 308.33 L563.80 308.14 L564.05 307.07 L564.30 305.63 L564.55 304.18 L564.80 309.95 L565.05 306.81 L565.30 306.03 L565.55 305.01 L565.80 304.32 L566.05 301.89 L566.30 301.37 L566.55 301.98 L566.80 298.65 L567.05 297.32 L567.30 296.68 L567.55 297.94 L567.80 298.17 L568.05 301.18 L568.30 303.88 L568.55 306.68 L568.80 308.73 L569.05 307.42 L569.30 307.96 L569.55 306.75 L569.80 307.81 L570.05 308.54 L570.30 309.77 L570.55 309.47 L570.80 307.56 L571.05 310.47 L571.30 309.90 L571.55 307.33 L571.80 305.46 L572.05 309.05 L572.30 306.25 L572.55 309.50 L572.80 312.76 L573.05 312.56 L573.30 313.01 L573.55 312.79 L573.80 310.48 L574.05 310.90 L574.30 307.13 L574.55 310.00 L574.80 311.49 L575.05 311.30 L575.30 313.01 L575.55 311.47 L575.80 307.75 L576.05 311.88 L576.30 311.42 L576.55 309.83 L576.80 309.21 L577.05 309.19 L577.30 310.27 L577.55 307.99 L577.80 309.47 L578.05 309.32 L578.30 311.15 L578.55 310.20 L578.80 311.53 L579.05 309.29 L579.30 310.50 L579.55 309.84 L579.80 312.07 L580.05 311.84 L580.30 312.91 L580.55 310.58 L580.80 309.15 L581.05 309.45 L581.30 307.69 L581.55 308.15 L581.80 311.11 L582.05 308.21 L582.30 307.58 L582.55 308.28 L582.80 311.20 L583.05 313.24 L583.30 309.28 L583.55 307.15 L583.80 306.88 L584.05 304.74 L584.30 301.05 L584.55 302.46 L584.80 301.96 L585.05 300.68 L585.30 299.55 L585.55 297.89 L585.80 295.83 L586.05 296.57 L586.30 296.77 L586.55 297.99 L586.80 297.87 L587.05 300.18 L587.30 301.87 L587.55 302.09 L587.80 302.76 L588.05 303.97 L588.30 305.59 L588.55 305.58 L588.80 304.93 L589.05 306.73 L589.30 305.51 L589.55 307.65 L589.80 306.70 L590.05 307.43 L590.30 310.16 L590.55 305.61 L590.80 304.90 L591.05 306.00 L591.30 307.20 L591.55 306.48 L591.80 305.97 L592.05 306.25 L592.30 305.66 L592.55 307.26 L592.80 306.61 L593.05 307.14 L593.30 307.66 L593.55 308.93 L593.80 307.22 L594.05 306.62 L594.30 307.64 L594.55 303.71 L594.80 305.33 L595.05 304.43 L595.30 306.76 L595.55 305.82 L595.80 304.35 L596.05 306.55 L596.30 305.00 L596.55 303.61 L596.80 304.90 L597.05 301.78 L597.30 302.89 L597.55 304.75 L597.80 302.68 L598.05 305.03 L598.30 304.35 L598.55 303.70 L598.80 301.74 L599.05 305.62 L599.30 307.60 L599.55 306.11 L599.80 306.62 L600.05 303.40 L600.30 305.07 L600.55 306.56 L600.80 305.59 L601.05 305.43 L601.30 306.20 L601.55 305.68 L601.80 304.04 L602.05 307.49 L602.30 309.55 L602.55 310.20 L602.80 310.87 L603.05 311.86 L603.30 310.04 L603.55 304.44 L603.80 307.05 L604.05 307.38 L604.30 306.51 L604.55 309.15 L604.80 307.76 L605.05 306.77 L605.30 312.95 L605.55 310.92 L605.80 310.98 L606.05 311.83 L606.30 312.32 L606.55 311.28 L606.80 311.95 L607.05 311.17 L607.30 310.12 L607.55 309.98 L607.80 311.60 L608.05 312.57 L608.30 312.59 L608.55 308.91 L608.80 309.55 L609.05 311.28 L609.30 310.44 L609.55 311.72 L609.80 311.66 L610.05 313.70 L610.30 308.07 L610.55 309.96 L610.80 312.64 L611.05 313.25 L611.30 311.28 L611.55 310.87 L611.80 310.42 L612.05 311.71 L612.30 312.96 L612.55 311.05 L612.80 313.27 L613.05 313.23 L613.30 308.30 L613.55 309.13 L613.80 310.04 L614.05 309.45 L614.30 310.63 L614.55 310.96 L614.80 311.04 L615.05 310.73 L615.30 311.67 L615.55 310.45 L615.80 312.05 L616.05 308.36 L616.30 310.09 L616.55 309.89 L616.80 309.98 L617.05 311.33 L617.30 310.23 L617.55 304.73 L617.80 305.33 L618.05 308.07 L618.30 309.30 L618.55 309.52 L618.80 309.32 L619.05 311.80 L619.30 311.73 L619.55 309.66 L619.80 308.98 L620.05 312.16 L620.30 312.11 L620.55 312.59 L620.80 312.17 L621.05 312.33 L621.30 310.95 L621.55 309.41 L621.80 308.65 L622.05 308.46 L622.30 313.50 L622.55 313.81 L622.80 312.86 L623.05 312.06 L623.30 308.74 L623.55 311.69 L623.80 308.32 L624.05 311.99 L624.30 310.86 L624.55 308.54 L624.80 312.96 L625.05 310.41 L625.30 310.51 L625.55 310.78 L625.80 308.33 L626.05 310.84 L626.30 308.66 L626.55 309.76 L626.80 308.48 L627.05 313.09 L627.30 312.41 L627.55 314.78 L627.80 312.12 L628.05 312.23 L628.30 312.85 L628.55 312.24 L628.80 311.26 L629.05 313.40 L629.30 312.99 L629.55 312.15 L629.80 313.09 L630.05 306.80 L630.30 306.76 L630.55 309.43 L630.80 309.00 L631.05 308.72 L631.30 306.15 L631.55 306.47 L631.80 309.07 L632.05 306.62 L632.30 304.06 L632.55 303.43 L632.80 304.86 L633.05 303.23 L633.30 301.48 L633.55 304.07 L633.80 305.12 L634.05 306.95 L634.30 305.13 L634.55 305.45 L634.80 307.22 L635.05 309.46 L635.30 313.32 L635.55 314.69 L635.80 315.05 L636.05 314.95 L636.30 315.12 L636.55 314.49 L636.80 314.19 L637.05 312.12 L637.30 310.91 L637.55 313.79 L637.80 310.49 L638.05 309.98 L638.30 310.42 L638.55 311.45 L638.80 310.32 L639.05 310.18 L639.30 309.47 L639.55 309.21 L639.80 309.78 L640.05 317.33 L640.30 312.33 L640.55 316.87 L640.80 311.98 L641.05 312.31 L641.30 311.99 L641.55 313.20 L641.80 311.99 L642.05 309.89" fill="none" stroke="#000" stroke-width="2.0" stroke-linejoin="round"/>
<path d="M779.80 315.48 L780.05 313.05 L780.30 313.27 L780.55 313.07 L780.80 313.83 L781.05 311.39 L781.30 311.52 L781.55 311.16 L781.80 310.59 L782.05 310.63 L782.30 311.06 L782.55 311.53 L782.80 310.97 L783.05 312.38 L783.30 311.81 L783.55 308.24 L783.80 312.11 L784.05 311.88 L784.30 311.34 L784.55 312.36 L784.80 312.77 L785.05 312.73 L785.30 311.58 L785.55 312.37 L785.80 310.57 L786.05 313.48 L786.30 311.41 L786.55 311.80 L786.80 312.26 L787.05 312.71 L787.30 312.34 L787.55 313.08 L787.80 308.28 L788.05 310.36 L788.30 311.23 L788.55 311.28 L788.80 313.75 L789.05 311.73 L789.30 311.94 L789.55 309.60 L789.80 311.43 L790.05 309.88 L790.30 309.24 L790.55 313.88 L790.80 313.89 L791.05 313.01 L791.30 312.83 L791.55 310.73 L791.80 310.27 L792.05 311.92 L792.30 309.47 L792.55 311.37 L792.80 309.70 L793.05 311.28 L793.30 310.44 L793.55 313.68 L793.80 314.21 L794.05 312.51 L794.30 310.01 L794.55 310.28 L794.80 311.32 L795.05 310.61 L795.30 311.90 L795.55 313.37 L795.80 312.72 L796.05 311.94 L796.30 313.13 L796.55 312.30 L796.80 313.38 L797.05 312.39 L797.30 314.38 L797.55 312.89 L797.80 311.23 L798.05 311.94 L798.30 311.34 L798.55 310.69 L798.80 311.42 L799.05 312.85 L799.30 309.82 L799.55 311.13 L799.80 311.58 L800.05 311.80 L800.30 313.09 L800.55 311.01 L800.80 312.56 L801.05 312.13 L801.30 312.37 L801.55 312.06 L801.80 311.78 L802.05 311.41 L802.30 312.42 L802.55 315.02 L802.80 314.86 L803.05 314.54 L803.30 314.02 L803.55 312.48 L803.80 313.15 L804.05 315.31 L804.30 312.05 L804.55 313.24 L804.80 314.01 L805.05 313.44 L805.30 313.81 L805.55 314.74 L805.80 316.19 L806.05 315.70 L806.30 315.92 L806.55 314.36 L806.80 314.28 L807.05 313.42 L807.30 313.18 L807.55 312.12 L807.80 313.07 L808.05 314.46 L808.30 313.07 L808.55 312.95 L808.80 313.36 L809.05 312.78 L809.30 313.66 L809.55 313.20 L809.80 311.21 L810.05 310.48 L810.30 312.32 L810.55 313.02 L810.80 313.90 L811.05 313.22 L811.30 312.85 L811.55 310.46 L811.80 313.03 L812.05 311.31 L812.30 312.92 L812.55 310.94 L812.80 310.60 L813.05 311.41 L813.30 311.02 L813.55 310.47 L813.80 312.08 L814.05 312.47 L814.30 312.23 L814.55 311.15 L814.80 309.99 L815.05 309.76 L815.30 309.43 L815.55 309.65 L815.80 310.35 L816.05 309.19 L816.30 307.41 L816.55 305.91 L816.80 305.75 L817.05 302.59 L817.30 298.54 L817.55 293.28 L817.80 286.90 L818.05 279.11 L818.30 271.53 L818.55 264.20 L818.80 257.69 L819.05 256.84 L819.30 261.18 L819.55 266.25 L819.80 274.07 L820.05 282.59 L820.30 289.49 L820.55 296.35 L820.80 299.44 L821.05 302.01 L821.30 304.99 L821.55 306.34 L821.80 306.94 L822.05 309.25 L822.30 310.17 L822.55 310.45 L822.80 310.22 L823.05 311.00 L823.30 310.99 L823.55 310.35 L823.80 311.60 L824.05 312.05 L824.30 311.97 L824.55 312.71 L824.80 310.92 L825.05 311.31 L825.30 311.05 L825.55 313.22 L825.80 313.22 L826.05 315.20 L826.30 315.46 L826.55 313.22 L826.80 311.35 L827.05 312.45 L827.30 312.02 L827.55 312.00 L827.80 310.89 L828.05 312.44 L828.30 312.64 L828.55 313.01 L828.80 313.07 L829.05 311.61 L829.30 309.31 L829.55 310.71 L829.80 310.90 L830.05 311.12 L830.30 313.06 L830.55 312.64 L830.80 314.44 L831.05 313.61 L831.30 313.87 L831.55 313.77 L831.80 314.10 L832.05 311.69 L832.30 313.52 L832.55 313.13 L832.80 311.62 L833.05 312.91 L833.30 313.16 L833.55 314.44 L833.80 314.33 L834.05 313.83 L834.30 311.13 L834.55 314.02 L834.80 315.09 L835.05 314.69 L835.30 314.12 L835.55 314.81 L835.80 312.53 L836.05 313.45 L836.30 313.03 L836.55 311.57 L836.80 312.61 L837.05 313.06 L837.30 314.95 L837.55 314.85 L837.80 311.65 L838.05 309.76 L838.30 311.25 L838.55 311.76 L838.80 311.09 L839.05 310.14 L839.30 311.28 L839.55 310.60 L839.80 310.87 L840.05 312.93 L840.30 313.08 L840.55 311.91 L840.80 310.93 L841.05 311.65 L841.30 314.36 L841.55 312.80 L841.80 314.88 L842.05 312.68 L842.30 312.41 L842.55 313.42 L842.80 312.04 L843.05 312.45 L843.30 310.89 L843.55 312.69 L843.80 314.12 L844.05 312.51 L844.30 312.83 L844.55 312.23 L844.80 309.79 L845.05 314.79 L845.30 314.41 L845.55 314.48 L845.80 313.97 L846.05 313.47 L846.30 315.98 L846.55 311.89 L846.80 311.93 L847.05 311.82 L847.30 312.03 L847.55 313.25 L847.80 312.03 L848.05 310.73 L848.30 310.39 L848.55 312.22 L848.80 313.65 L849.05 314.12 L849.30 315.31 L849.55 313.21 L849.80 314.15 L850.05 314.19 L850.30 313.15 L850.55 311.96 L850.80 313.45 L851.05 312.18 L851.30 312.10 L851.55 311.21 L851.80 314.20 L852.05 313.31 L852.30 312.35 L852.55 312.24 L852.80 312.21 L853.05 312.60 L853.30 310.54 L853.55 310.29 L853.80 312.26 L854.05 313.86 L854.30 311.98 L854.55 312.53 L854.80 311.92 L855.05 309.54 L855.30 310.91 L855.55 310.57 L855.80 312.85 L856.05 312.53 L856.30 312.60 L856.55 310.86 L856.80 312.08 L857.05 310.03 L857.30 311.80 L857.55 314.04 L857.80 311.83 L858.05 313.40 L858.30 314.80 L858.55 313.43 L858.80 314.45 L859.05 313.63 L859.30 312.55 L859.55 310.17 L859.80 310.27 L860.05 309.80 L860.30 314.40 L860.55 313.83 L860.80 313.04 L861.05 311.22 L861.30 314.22 L861.55 311.99 L861.80 314.27 L862.05 314.80 L862.30 313.79 L862.55 312.42 L862.80 312.56 L863.05 311.04 L863.30 312.81 L863.55 314.89 L863.80 314.84 L864.05 315.01 L864.30 312.92 L864.55 313.23 L864.80 311.72 L865.05 311.74 L865.30 313.22 L865.55 316.08 L865.80 314.35 L866.05 313.53 L866.30 310.76 L866.55 312.08 L866.80 311.33 L867.05 310.38 L867.30 309.84 L867.55 311.61 L867.80 311.73 L868.05 313.11 L868.30 312.60 L868.55 312.64 L868.80 314.47 L869.05 314.46 L869.30 314.40 L869.55 315.22 L869.80 314.03 L870.05 311.99 L870.30 311.29 L870.55 310.01 L870.80 311.74 L871.05 311.56 L871.30 312.53 L871.55 313.29 L871.80 311.55 L872.05 311.85 L872.30 313.07 L872.55 311.88 L872.80 311.73 L873.05 309.36 L873.30 305.93 L873.55 302.78 L873.80 297.08 L874.05 293.60 L874.30 289.31 L874.55 289.25 L874.80 290.60 L875.05 295.62 L875.30 300.92 L875.55 304.73 L875.80 308.11 L876.05 308.96 L876.30 309.17 L876.55 308.98 L876.80 309.95 L877.05 310.16 L877.30 311.58 L877.55 311.54 L877.80 311.21 L878.05 311.00 L878.30 309.51 L878.55 310.73 L878.80 312.26 L879.05 310.82 L879.30 311.51 L879.55 312.98 L879.80 311.96 L880.05 312.61 L880.30 312.14 L880.55 315.50 L880.80 315.71 L881.05 315.55 L881.30 313.17 L881.55 313.75 L881.80 313.01 L882.05 313.33 L882.30 312.31 L882.55 312.76 L882.80 311.82 L883.05 312.71 L883.30 314.93 L883.55 312.05 L883.80 310.82 L884.05 312.52 L884.30 313.64 L884.55 312.70 L884.80 313.47 L885.05 313.61 L885.30 313.82 L885.55 314.94 L885.80 312.93 L886.05 313.64 L886.30 313.39 L886.55 312.17 L886.80 313.09 L887.05 311.27 L887.30 310.21 L887.55 312.90 L887.80 311.40 L888.05 314.18 L888.30 314.62 L888.55 312.88 L888.80 311.64 L889.05 309.42 L889.30 311.06 L889.55 309.87 L889.80 313.26 L890.05 310.78 L890.30 311.79 L890.55 308.81 L890.80 310.37 L891.05 313.11 L891.30 312.15 L891.55 311.25 L891.80 311.24 L892.05 312.26 L892.30 313.31 L892.55 312.39 L892.80 309.76 L893.05 311.40 L893.30 312.92 L893.55 315.16 L893.80 313.56 L894.05 312.81 L894.30 311.58 L894.55 312.52 L894.80 314.11 L895.05 311.48 L895.30 311.53 L895.55 310.16 L895.80 309.90 L896.05 310.30 L896.30 311.19 L896.55 309.96 L896.80 309.94 L897.05 311.72 L897.30 311.40 L897.55 311.34 L897.80 310.81 L898.05 309.75 L898.30 309.75 L898.55 309.64 L898.80 308.77 L899.05 309.16 L899.30 307.93 L899.55 307.89 L899.80 306.51 L900.05 306.02 L900.30 303.77 L900.55 302.01 L900.80 299.52 L901.05 298.63 L901.30 295.04 L901.55 289.35 L901.80 281.34 L902.05 268.86 L902.30 252.58 L902.55 230.65 L902.80 203.14 L903.05 171.91 L903.30 138.71 L903.55 108.74 L903.80 87.64 L904.05 82.26 L904.30 94.57 L904.55 120.05 L904.80 151.95 L905.05 185.04 L905.30 214.84 L905.55 240.58 L905.80 259.57 L906.05 273.75 L906.30 282.55 L906.55 289.96 L906.80 296.76 L907.05 299.48 L907.30 300.75 L907.55 303.02 L907.80 304.03 L908.05 305.16 L908.30 308.54 L908.55 309.98 L908.80 310.52 L909.05 311.10 L909.30 308.86 L909.55 306.89 L909.80 309.06 L910.05 309.82 L910.30 309.90 L910.55 309.87 L910.80 310.89 L911.05 311.28 L911.30 311.19 L911.55 311.48 L911.80 310.88 L912.05 310.47 L912.30 312.37 L912.55 311.38 L912.80 313.56 L913.05 313.02 L913.30 312.13 L913.55 312.99 L913.80 311.51 L914.05 311.21 L914.30 310.91 L914.55 311.19 L914.80 312.12 L915.05 314.18 L915.30 313.28 L915.55 311.01 L915.80 310.26 L916.05 308.76 L916.30 311.04 L916.55 312.22 L916.80 312.09 L917.05 312.04 L917.30 312.17 L917.55 312.08 L917.80 312.25 L918.05 311.80 L918.30 310.15 L918.55 311.56 L918.80 312.58 L919.05 309.57 L919.30 309.74 L919.55 308.71 L919.80 310.00 L920.05 309.57 L920.30 311.14 L920.55 311.34 L920.80 309.54 L921.05 308.55 L921.30 307.79 L921.55 308.44 L921.80 306.88 L922.05 307.27 L922.30 305.23 L922.55 306.25 L922.80 305.54 L923.05 302.95 L923.30 301.16 L923.55 299.80 L923.80 297.41 L924.05 291.56 L924.30 287.77 L924.55 282.27 L924.80 272.98 L925.05 261.45 L925.30 248.93 L925.55 233.33 L925.80 215.93 L926.05 197.62 L926.30 179.15 L926.55 163.10 L926.80 151.33 L927.05 146.04 L927.30 148.45 L927.55 157.72 L927.80 172.76 L928.05 190.33 L928.30 208.91 L928.55 226.20 L928.80 242.62 L929.05 256.91 L929.30 268.98 L929.55 278.84 L929.80 285.77 L930.05 291.06 L930.30 296.47 L930.55 301.30 L930.80 304.40 L931.05 304.46 L931.30 304.50 L931.55 305.85 L931.80 307.11 L932.05 309.32 L932.30 308.56 L932.55 307.91 L932.80 309.71 L933.05 308.83 L933.30 308.43 L933.55 309.92 L933.80 309.94 L934.05 309.10 L934.30 309.71 L934.55 309.91 L934.80 310.31 L935.05 309.98 L935.30 311.42 L935.55 311.06 L935.80 310.67 L936.05 312.48 L936.30 311.03 L936.55 312.39 L936.80 312.85 L937.05 312.05 L937.30 312.31 L937.55 310.44 L937.80 311.65 L938.05 310.67 L938.30 310.39 L938.55 311.51 L938.80 310.68 L939.05 311.08 L939.30 311.22 L939.55 311.51 L939.80 310.40 L940.05 310.06 L940.30 307.73 L940.55 307.08 L940.80 308.16 L941.05 309.80 L941.30 310.41 L941.55 310.14 L941.80 309.77 L942.05 309.99 L942.30 312.70 L942.55 311.57 L942.80 312.01 L943.05 313.32 L943.30 313.71 L943.55 312.52 L943.80 315.30 L944.05 314.35 L944.30 314.08 L944.55 314.64 L944.80 313.52 L945.05 314.27 L945.30 313.60 L945.55 312.39 L945.80 311.78 L946.05 313.16 L946.30 313.45 L946.55 313.27 L946.80 312.83 L947.05 312.90 L947.30 314.23 L947.55 315.21 L947.80 313.99 L948.05 314.08 L948.30 311.51 L948.55 311.24 L948.80 311.68 L949.05 311.62 L949.30 313.59 L949.55 311.04 L949.80 313.09 L950.05 314.26 L950.30 316.68 L950.55 314.43 L950.80 314.59 L951.05 315.94 L951.30 315.88 L951.55 313.54 L951.80 313.21 L952.05 312.08 L952.30 313.08 L952.55 314.30 L952.80 315.69 L953.05 315.33 L953.30 315.58 L953.55 315.90 L953.80 313.72 L954.05 314.59 L954.30 315.36 L954.55 314.28 L954.80 312.83 L955.05 313.56 L955.30 313.89 L955.55 314.70 L955.80 311.99 L956.05 312.53 L956.30 315.73 L956.55 316.27 L956.80 314.72 L957.05 313.85 L957.30 313.48 L957.55 312.44 L957.80 312.60 L958.05 313.18 L958.30 312.00 L958.55 312.83 L958.80 313.60 L959.05 312.02 L959.30 312.27 L959.55 310.97 L959.80 312.18 L960.05 312.73 L960.30 311.79 L960.55 311.64 L960.80 311.59 L961.05 311.11 L961.30 308.24 L961.55 307.73 L961.80 306.41 L962.05 305.74 L962.30 309.02 L962.55 310.87 L962.80 312.81 L963.05 313.54 L963.30 312.66 L963.55 313.25 L963.80 312.71 L964.05 314.82 L964.30 311.29 L964.55 313.07 L964.80 312.73 L965.05 314.14 L965.30 315.37 L965.55 313.69 L965.80 315.38 L966.05 315.81 L966.30 312.73 L966.55 315.52 L966.80 313.08 L967.05 311.77 L967.30 313.99 L967.55 312.95 L967.80 313.62 L968.05 313.59 L968.30 312.37 L968.55 315.02 L968.80 316.05 L969.05 314.78 L969.30 316.02 L969.55 314.62 L969.80 314.30 L970.05 313.44 L970.30 311.80 L970.55 312.22 L970.80 311.63 L971.05 312.96 L971.30 313.20 L971.55 312.39 L971.80 314.17 L972.05 313.81 L972.30 315.27 L972.55 313.22 L972.80 312.19 L973.05 311.18 L973.30 311.66 L973.55 311.18 L973.80 310.85 L974.05 312.05 L974.30 310.77 L974.55 307.65 L974.80 305.66 L975.05 301.90 L975.30 297.17 L975.55 291.32 L975.80 284.39 L976.05 276.78 L976.30 269.05 L976.55 262.04 L976.80 257.85 L977.05 258.40 L977.30 262.83 L977.55 269.86 L977.80 277.41 L978.05 285.52 L978.30 291.40 L978.55 298.68 L978.80 303.47 L979.05 306.88 L979.30 307.55 L979.55 309.47 L979.80 311.81 L980.05 311.49 L980.30 310.54 L980.55 311.32 L980.80 309.32 L981.05 312.21 L981.30 313.03 L981.55 311.35 L981.80 313.10 L982.05 314.47 L982.30 314.56 L982.55 314.67 L982.80 315.81 L983.05 314.78 L983.30 315.78 L983.55 314.31 L983.80 313.09 L984.05 313.00 L984.30 312.10 L984.55 313.46 L984.80 312.76 L985.05 313.76 L985.30 314.17 L985.55 315.97 L985.80 316.96 L986.05 314.58 L986.30 313.98 L986.55 313.73 L986.80 313.06 L987.05 315.75 L987.30 316.26 L987.55 314.72 L987.80 312.59 L988.05 312.55 L988.30 313.36 L988.55 315.62 L988.80 313.13 L989.05 315.37 L989.30 312.84 L989.55 313.88 L989.80 312.50 L990.05 312.77 L990.30 310.49 L990.55 313.12 L990.80 313.60 L991.05 312.50 L991.30 310.66 L991.55 312.35 L991.80 313.15 L992.05 311.76 L992.30 313.48 L992.55 313.49 L992.80 312.24 L993.05 312.06 L993.30 309.95 L993.55 312.83 L993.80 314.38 L994.05 313.60 L994.30 311.91 L994.55 311.23 L994.80 311.80 L995.05 311.21 L995.30 312.05 L995.55 310.67 L995.80 311.35 L996.05 310.82 L996.30 307.21 L996.55 303.50 L996.80 297.90 L997.05 295.59 L997.30 293.08 L997.55 290.85 L997.80 292.67 L998.05 294.74 L998.30 297.68 L998.55 302.57 L998.80 305.96 L999.05 305.89 L999.30 307.51 L999.55 307.66 L999.80 308.66 L1000.05 309.17 L1000.30 308.28 L1000.55 307.99 L1000.80 308.10 L1001.05 306.60 L1001.30 304.90 L1001.55 304.56 L1001.80 306.52 L1002.05 308.86 L1002.30 308.73 L1002.55 309.81 L1002.80 309.58 L1003.05 310.11 L1003.30 312.41 L1003.55 312.04 L1003.80 312.85 L1004.05 313.29 L1004.30 314.83 L1004.55 314.48 L1004.80 314.02 L1005.05 313.55 L1005.30 313.08 L1005.55 314.79 L1005.80 316.96 L1006.05 313.40 L1006.30 315.00 L1006.55 313.26 L1006.80 312.96 L1007.05 313.21 L1007.30 313.17 L1007.55 313.24 L1007.80 313.00 L1008.05 315.86 L1008.30 313.15 L1008.55 312.92 L1008.80 312.67 L1009.05 313.76 L1009.30 312.42 L1009.55 313.40 L1009.80 314.01 L1010.05 316.55 L1010.30 316.09 L1010.55 315.02 L1010.80 314.74 L1011.05 316.77 L1011.30 315.27 L1011.55 313.88 L1011.80 313.35 L1012.05 313.42 L1012.30 315.01 L1012.55 313.39 L1012.80 313.19 L1013.05 313.78 L1013.30 312.94 L1013.55 314.51 L1013.80 313.93 L1014.05 314.77 L1014.30 315.17 L1014.55 316.56 L1014.80 317.50 L1015.05 314.70 L1015.30 312.88 L1015.55 312.26 L1015.80 314.00 L1016.05 314.86 L1016.30 314.59 L1016.55 314.42 L1016.80 316.28 L1017.05 316.34 L1017.30 315.54 L1017.55 315.67 L1017.80 313.11 L1018.05 315.27 L1018.30 317.35 L1018.55 315.90 L1018.80 314.54 L1019.05 316.00 L1019.30 314.51 L1019.55 314.58 L1019.80 315.24 L1020.05 314.60 L1020.30 315.37 L1020.55 312.45 L1020.80 310.52 L1021.05 313.58 L1021.30 314.70 L1021.55 314.83 L1021.80 314.13 L1022.05 314.35 L1022.30 314.94 L1022.55 313.25 L1022.80 314.22 L1023.05 313.37 L1023.30 316.54 L1023.55 315.83 L1023.80 315.41 L1024.05 316.13 L1024.30 316.37 L1024.55 316.49 L1024.80 314.56 L1025.05 314.69 L1025.30 315.65 L1025.55 315.26 L1025.80 314.96 L1026.05 313.97 L1026.30 314.46 L1026.55 316.15 L1026.80 313.72 L1027.05 312.42 L1027.30 312.04 L1027.55 311.43 L1027.80 314.64 L1028.05 316.84 L1028.30 316.11 L1028.55 315.28 L1028.80 316.50 L1029.05 316.64 L1029.30 312.60 L1029.55 313.49 L1029.80 317.00 L1030.05 315.07 L1030.30 313.80 L1030.55 313.34 L1030.80 315.83 L1031.05 314.47 L1031.30 314.91 L1031.55 316.06 L1031.80 315.32 L1032.05 314.77 L1032.30 313.22 L1032.55 312.27 L1032.80 314.67 L1033.05 312.82 L1033.30 314.87 L1033.55 315.97 L1033.80 316.74 L1034.05 314.99 L1034.30 313.32 L1034.55 313.59 L1034.80 314.94 L1035.05 314.36 L1035.30 313.62 L1035.55 312.11 L1035.80 312.04 L1036.05 308.43 L1036.30 307.33 L1036.55 309.56 L1036.80 309.80 L1037.05 310.72 L1037.30 308.97 L1037.55 309.75 L1037.80 310.94 L1038.05 312.12 L1038.30 314.35 L1038.55 313.39 L1038.80 313.85 L1039.05 313.06 L1039.30 313.32 L1039.55 314.19 L1039.80 314.64 L1040.05 315.56 L1040.30 313.24 L1040.55 314.68 L1040.80 314.93 L1041.05 313.53 L1041.30 315.47 L1041.55 313.93 L1041.80 313.60 L1042.05 314.55 L1042.30 316.06 L1042.55 314.51 L1042.80 316.11 L1043.05 315.52 L1043.30 313.82 L1043.55 314.88 L1043.80 314.54 L1044.05 313.43 L1044.30 313.62 L1044.55 315.40 L1044.80 315.10 L1045.05 314.24 L1045.30 315.13 L1045.55 312.83 L1045.80 314.29 L1046.05 315.77 L1046.30 313.40 L1046.55 312.39 L1046.80 312.22 L1047.05 312.93 L1047.30 312.58 L1047.55 313.30 L1047.80 312.43 L1048.05 313.57 L1048.30 314.42 L1048.55 314.64 L1048.80 313.49 L1049.05 314.65 L1049.30 312.28 L1049.55 312.28 L1049.80 312.95 L1050.05 314.86 L1050.30 313.69 L1050.55 314.34 L1050.80 315.81 L1051.05 316.83 L1051.30 316.97 L1051.55 313.99 L1051.80 313.87 L1052.05 314.04 L1052.30 314.25 L1052.55 314.09 L1052.80 313.21 L1053.05 312.93 L1053.30 311.07 L1053.55 312.53 L1053.80 312.59 L1054.05 311.46 L1054.30 313.41 L1054.55 312.07 L1054.80 310.47 L1055.05 310.71 L1055.30 310.09 L1055.55 309.20 L1055.80 306.87 L1056.05 304.83 L1056.30 300.75 L1056.55 296.14 L1056.80 288.76 L1057.05 279.18 L1057.30 268.50 L1057.55 257.89 L1057.80 247.64 L1058.05 239.15 L1058.30 236.55 L1058.55 239.46 L1058.80 247.41 L1059.05 257.60 L1059.30 268.38 L1059.55 278.73 L1059.80 287.33 L1060.05 294.39 L1060.30 300.01 L1060.55 303.89 L1060.80 308.24 L1061.05 308.11 L1061.30 308.87 L1061.55 310.05 L1061.80 311.37 L1062.05 310.35 L1062.30 309.57 L1062.55 311.23 L1062.80 312.23 L1063.05 313.02 L1063.30 313.54 L1063.55 311.34 L1063.80 313.41 L1064.05 313.03 L1064.30 315.48 L1064.55 313.74 L1064.80 310.92 L1065.05 312.08 L1065.30 313.00 L1065.55 313.59 L1065.80 313.75 L1066.05 312.98 L1066.30 311.29 L1066.55 312.33 L1066.80 312.64 L1067.05 312.39 L1067.30 313.15 L1067.55 313.07 L1067.80 310.99 L1068.05 311.48 L1068.30 311.71 L1068.55 312.52 L1068.80 315.16 L1069.05 314.35 L1069.30 314.70 L1069.55 311.67 L1069.80 314.31 L1070.05 313.39 L1070.30 314.28 L1070.55 312.73 L1070.80 313.30 L1071.05 314.59 L1071.30 314.16 L1071.55 314.27 L1071.80 313.13 L1072.05 312.68 L1072.30 313.67 L1072.55 313.57 L1072.80 313.90 L1073.05 313.09 L1073.30 313.07 L1073.55 314.43 L1073.80 315.85 L1074.05 314.30 L1074.30 313.30 L1074.55 313.78 L1074.80 314.97 L1075.05 314.73 L1075.30 315.59 L1075.55 314.44 L1075.80 312.99 L1076.05 311.21 L1076.30 313.73 L1076.55 314.14 L1076.80 313.23 L1077.05 314.03 L1077.30 312.56 L1077.55 314.54 L1077.80 315.44 L1078.05 316.01 L1078.30 314.32 L1078.55 315.81 L1078.80 315.75 L1079.05 316.65 L1079.30 313.08 L1079.55 314.65 L1079.80 315.81 L1080.05 314.41 L1080.30 315.27 L1080.55 314.65 L1080.80 315.98 L1081.05 314.53 L1081.30 314.23 L1081.55 312.61 L1081.80 315.78 L1082.05 313.72 L1082.30 312.52 L1082.55 312.16 L1082.80 313.18 L1083.05 313.61 L1083.30 314.25 L1083.55 315.89 L1083.80 315.94 L1084.05 313.01 L1084.30 313.65 L1084.55 313.50 L1084.80 314.56 L1085.05 314.27 L1085.30 315.59 L1085.55 314.74 L1085.80 316.54 L1086.05 313.84 L1086.30 315.17 L1086.55 315.46 L1086.80 313.60 L1087.05 312.03 L1087.30 312.13 L1087.55 313.41 L1087.80 315.49 L1088.05 312.69 L1088.30 312.83 L1088.55 311.70 L1088.80 313.64 L1089.05 313.73 L1089.30 313.62 L1089.55 314.39 L1089.80 314.20 L1090.05 315.47 L1090.30 313.93 L1090.55 312.85 L1090.80 313.05 L1091.05 313.04 L1091.30 314.55 L1091.55 313.21 L1091.80 312.39 L1092.05 311.76 L1092.30 311.26 L1092.55 309.52 L1092.80 310.93 L1093.05 311.68 L1093.30 311.24 L1093.55 309.55 L1093.80 309.99 L1094.05 309.25 L1094.30 307.74 L1094.55 306.72 L1094.80 305.01 L1095.05 304.37 L1095.30 304.20 L1095.55 302.96 L1095.80 303.56 L1096.05 304.26 L1096.30 306.20 L1096.55 304.75 L1096.80 307.25 L1097.05 308.38 L1097.30 308.90 L1097.55 309.79 L1097.80 308.19 L1098.05 309.12 L1098.30 308.32 L1098.55 307.79 L1098.80 309.07 L1099.05 307.24 L1099.30 306.68 L1099.55 303.82 L1099.80 299.99 L1100.05 294.87 L1100.30 287.33 L1100.55 278.69 L1100.80 267.77 L1101.05 255.24 L1101.30 241.35 L1101.55 228.69 L1101.80 219.50 L1102.05 217.14 L1102.30 222.43 L1102.55 233.25 L1102.80 246.26 L1103.05 260.56 L1103.30 272.67 L1103.55 283.37 L1103.80 291.23 L1104.05 297.96 L1104.30 302.74 L1104.55 306.09 L1104.80 306.49 L1105.05 308.08 L1105.30 311.28 L1105.55 310.73 L1105.80 311.18 L1106.05 311.20 L1106.30 310.68 L1106.55 313.02 L1106.80 314.06 L1107.05 312.12 L1107.30 312.68 L1107.55 314.54 L1107.80 313.88 L1108.05 313.21 L1108.30 314.00 L1108.55 314.23 L1108.80 312.02 L1109.05 311.52 L1109.30 314.14 L1109.55 312.83 L1109.80 312.88 L1110.05 312.22 L1110.30 314.96 L1110.55 312.51 L1110.80 313.10 L1111.05 312.71 L1111.30 312.66 L1111.55 311.56 L1111.80 311.57 L1112.05 312.30 L1112.30 313.18 L1112.55 311.09 L1112.80 312.46 L1113.05 311.94 L1113.30 312.70 L1113.55 312.57 L1113.80 312.91 L1114.05 312.92 L1114.30 313.78 L1114.55 313.62 L1114.80 311.52 L1115.05 309.72 L1115.30 310.07 L1115.55 312.30 L1115.80 310.94 L1116.05 311.13 L1116.30 314.63 L1116.55 313.57 L1116.80 313.29 L1117.05 313.81 L1117.30 314.40 L1117.55 313.28 L1117.80 313.51 L1118.05 311.05 L1118.30 312.76 L1118.55 313.83 L1118.80 311.54 L1119.05 313.67 L1119.30 315.81 L1119.55 311.41 L1119.80 312.24 L1120.05 314.53 L1120.30 314.69 L1120.55 313.08 L1120.80 312.45 L1121.05 312.44 L1121.30 313.67 L1121.55 312.37 L1121.80 311.03 L1122.05 312.30 L1122.30 311.77 L1122.55 314.41 L1122.80 312.34 L1123.05 312.91 L1123.30 312.53 L1123.55 310.84 L1123.80 311.14 L1124.05 309.49 L1124.30 311.40 L1124.55 310.60 L1124.80 309.78 L1125.05 308.85 L1125.30 311.48 L1125.55 311.29 L1125.80 309.08 L1126.05 308.33 L1126.30 307.88 L1126.55 306.47 L1126.80 303.89 L1127.05 299.35 L1127.30 298.40 L1127.55 294.41 L1127.80 291.40 L1128.05 286.29 L1128.30 283.48 L1128.55 281.37 L1128.80 280.09 L1129.05 279.06 L1129.30 280.66 L1129.55 284.45 L1129.80 287.06 L1130.05 291.33 L1130.30 294.70 L1130.55 296.92 L1130.80 301.22 L1131.05 304.51 L1131.30 306.51 L1131.55 307.66 L1131.80 309.33 L1132.05 307.27 L1132.30 308.33 L1132.55 310.52 L1132.80 309.97 L1133.05 309.87 L1133.30 307.89 L1133.55 306.79 L1133.80 303.95 L1134.05 303.09 L1134.30 301.24 L1134.55 298.63 L1134.80 296.57 L1135.05 294.79 L1135.30 293.54 L1135.55 293.39 L1135.80 294.09 L1136.05 293.29 L1136.30 295.86 L1136.55 299.07 L1136.80 300.08 L1137.05 302.47 L1137.30 306.89 L1137.55 307.05 L1137.80 309.36 L1138.05 310.21 L1138.30 309.18 L1138.55 310.25 L1138.80 309.19 L1139.05 310.51 L1139.30 312.70 L1139.55 313.49 L1139.80 313.51 L1140.05 312.59 L1140.30 313.63 L1140.55 314.85 L1140.80 314.89 L1141.05 315.21 L1141.30 314.75 L1141.55 314.56 L1141.80 312.89 L1142.05 315.06 L1142.30 312.95 L1142.55 312.23 L1142.80 312.14 L1143.05 312.08 L1143.30 314.57 L1143.55 313.84 L1143.80 313.46 L1144.05 313.28 L1144.30 313.54 L1144.55 315.30 L1144.80 316.31 L1145.05 314.41 L1145.30 316.19 L1145.55 315.64 L1145.80 315.05 L1146.05 316.01 L1146.30 315.00 L1146.55 314.80 L1146.80 314.51 L1147.05 312.77 L1147.30 311.88 L1147.55 311.83 L1147.80 311.93 L1148.05 312.33 L1148.30 312.56 L1148.55 314.70 L1148.80 314.32 L1149.05 315.10 L1149.30 314.91 L1149.55 313.35 L1149.80 313.37 L1150.05 311.89 L1150.30 310.94 L1150.55 313.10 L1150.80 313.55 L1151.05 313.90 L1151.30 315.16 L1151.55 312.87 L1151.80 313.31 L1152.05 310.94 L1152.30 311.55 L1152.55 313.64 L1152.80 311.96 L1153.05 311.48 L1153.30 312.49 L1153.55 315.40 L1153.80 315.58 L1154.05 314.49 L1154.30 314.99 L1154.55 314.57 L1154.80 313.77 L1155.05 313.25 L1155.30 314.22 L1155.55 313.97 L1155.80 314.94 L1156.05 313.76 L1156.30 314.93 L1156.55 313.92 L1156.80 315.44 L1157.05 315.89 L1157.30 314.01 L1157.55 316.85 L1157.80 315.75 L1158.05 313.98 L1158.30 312.48 L1158.55 313.46 L1158.80 313.95 L1159.05 313.07 L1159.30 312.26 L1159.55 312.66 L1159.80 312.11 L1160.05 312.37 L1160.30 312.20 L1160.55 313.74 L1160.80 310.79 L1161.05 315.04 L1161.30 313.93 L1161.55 313.93 L1161.80 312.36 L1162.05 314.61 L1162.30 314.11 L1162.55 313.63 L1162.80 312.71 L1163.05 314.16 L1163.30 314.66 L1163.55 313.53 L1163.80 315.78 L1164.05 313.69 L1164.30 315.33 L1164.55 314.80 L1164.80 312.68 L1165.05 313.07 L1165.30 314.23 L1165.55 313.58 L1165.80 313.90 L1166.05 313.81 L1166.30 314.40 L1166.55 313.35 L1166.80 315.92 L1167.05 315.22 L1167.30 316.30 L1167.55 314.69 L1167.80 314.50 L1168.05 312.97 L1168.30 313.52 L1168.55 315.55 L1168.80 314.99 L1169.05 313.47 L1169.30 313.00 L1169.55 314.15 L1169.80 313.75 L1170.05 316.22 L1170.30 315.14 L1170.55 314.39 L1170.80 314.89 L1171.05 316.19 L1171.30 312.96 L1171.55 312.47 L1171.80 312.25 L1172.05 310.59 L1172.30 312.00 L1172.55 312.69 L1172.80 314.09 L1173.05 314.45 L1173.30 314.59 L1173.55 314.56 L1173.80 313.28 L1174.05 316.55 L1174.30 316.34 L1174.55 314.07 L1174.80 312.31 L1175.05 313.09 L1175.30 313.95 L1175.55 313.64 L1175.80 313.73 L1176.05 313.88 L1176.30 313.18 L1176.55 311.20 L1176.80 310.62 L1177.05 308.76 L1177.30 310.60 L1177.55 309.52 L1177.80 309.34 L1178.05 310.57 L1178.30 307.29 L1178.55 305.27 L1178.80 301.66 L1179.05 296.43 L1179.30 292.04 L1179.55 283.83 L1179.80 273.40 L1180.05 261.27 L1180.30 247.33 L1180.55 234.13 L1180.80 223.72 L1181.05 218.26 L1181.30 220.58 L1181.55 229.25 L1181.80 242.14 L1182.05 256.65 L1182.30 268.79 L1182.55 280.80 L1182.80 289.51 L1183.05 296.56 L1183.30 301.38 L1183.55 304.29 L1183.80 305.30 L1184.05 307.38 L1184.30 307.81 L1184.55 310.67 L1184.80 311.17 L1185.05 310.50 L1185.30 310.56 L1185.55 312.34 L1185.80 310.47 L1186.05 311.50 L1186.30 312.00 L1186.55 311.11 L1186.80 312.97 L1187.05 312.22 L1187.30 313.57 L1187.55 313.24 L1187.80 312.17 L1188.05 312.30 L1188.30 313.64 L1188.55 312.03 L1188.80 311.44 L1189.05 311.98 L1189.30 312.96 L1189.55 313.43 L1189.80 311.82 L1190.05 310.79 L1190.30 311.52 L1190.55 311.63 L1190.80 312.17 L1191.05 310.29 L1191.30 310.47 L1191.55 309.74 L1191.80 312.17 L1192.05 309.06 L1192.30 308.57 L1192.55 308.29 L1192.80 306.22 L1193.05 305.50 L1193.30 303.27 L1193.55 299.30 L1193.80 295.17 L1194.05 290.19 L1194.30 282.00 L1194.55 273.19 L1194.80 263.47 L1195.05 254.10 L1195.30 247.62 L1195.55 245.30 L1195.80 248.57 L1196.05 256.73 L1196.30 266.48 L1196.55 276.39 L1196.80 284.78 L1197.05 292.25 L1197.30 297.47 L1197.55 302.98 L1197.80 305.99 L1198.05 306.01 L1198.30 307.80 L1198.55 310.81 L1198.80 310.04 L1199.05 309.77 L1199.30 309.95 L1199.55 310.61 L1199.80 311.75 L1200.05 312.07 L1200.30 312.67 L1200.55 312.17 L1200.80 313.43 L1201.05 314.94 L1201.30 313.02 L1201.55 313.55 L1201.80 313.87 L1202.05 313.89 L1202.30 313.69 L1202.55 314.23 L1202.80 313.70 L1203.05 312.98 L1203.30 312.52 L1203.55 314.13 L1203.80 313.38 L1204.05 311.54 L1204.30 312.30 L1204.55 312.61 L1204.80 314.40 L1205.05 315.40 L1205.30 313.36 L1205.55 315.23 L1205.80 315.02 L1206.05 316.37 L1206.30 314.52 L1206.55 315.10 L1206.80 315.47 L1207.05 316.64 L1207.30 313.77 L1207.55 313.98 L1207.80 314.27 L1208.05 314.01 L1208.30 313.09 L1208.55 313.43 L1208.80 313.99 L1209.05 316.47 L1209.30 315.34 L1209.55 316.04 L1209.80 314.48 L1210.05 314.67 L1210.30 314.45 L1210.55 314.49 L1210.80 312.68 L1211.05 313.60 L1211.30 317.15 L1211.55 315.62 L1211.80 313.37 L1212.05 316.69 L1212.30 315.98 L1212.55 315.54 L1212.80 313.07 L1213.05 313.45 L1213.30 313.70 L1213.55 313.90 L1213.80 312.98 L1214.05 314.56 L1214.30 312.90 L1214.55 315.12 L1214.80 314.72 L1215.05 314.04 L1215.30 312.39 L1215.55 313.94 L1215.80 314.65 L1216.05 312.77 L1216.30 315.71 L1216.55 314.74 L1216.80 312.74 L1217.05 315.15 L1217.30 313.50 L1217.55 312.95 L1217.80 312.06 L1218.05 312.24 L1218.30 313.12 L1218.55 312.54 L1218.80 313.91 L1219.05 312.97 L1219.30 313.64 L1219.55 311.36 L1219.80 312.39 L1220.05 313.42 L1220.30 314.73 L1220.55 314.12 L1220.80 314.42 L1221.05 314.84 L1221.30 313.55 L1221.55 314.69 L1221.80 314.91 L1222.05 314.00 L1222.30 312.75 L1222.55 315.21 L1222.80 316.10 L1223.05 315.42 L1223.30 316.19 L1223.55 316.99 L1223.80 315.42 L1224.05 315.58 L1224.30 315.65 L1224.55 315.58 L1224.80 314.82 L1225.05 314.07 L1225.30 315.21 L1225.55 315.07 L1225.80 316.72 L1226.05 316.04 L1226.30 315.29 L1226.55 313.34 L1226.80 313.82 L1227.05 314.52 L1227.30 314.33 L1227.55 313.54 L1227.80 310.57 L1228.05 311.63 L1228.30 313.35 L1228.55 315.90 L1228.80 313.73 L1229.05 314.76 L1229.30 313.04 L1229.55 314.96 L1229.80 314.41 L1230.05 314.44 L1230.30 314.89 L1230.55 313.87 L1230.80 313.40 L1231.05 315.17 L1231.30 313.09 L1231.55 312.73 L1231.80 314.62 L1232.05 315.41 L1232.30 313.92 L1232.55 313.30 L1232.80 314.08 L1233.05 316.55 L1233.30 317.19 L1233.55 315.32 L1233.80 314.19 L1234.05 314.23 L1234.30 312.24 L1234.55 313.79 L1234.80 313.67 L1235.05 315.37 L1235.30 313.90 L1235.55 314.59 L1235.80 313.78 L1236.05 313.50 L1236.30 316.16 L1236.55 314.14 L1236.80 314.19 L1237.05 314.80 L1237.30 316.90 L1237.55 315.92 L1237.80 314.59 L1238.05 314.84 L1238.30 316.72 L1238.55 316.14 L1238.80 316.00 L1239.05 317.86 L1239.30 314.92 L1239.55 316.04 L1239.80 314.15 L1240.05 315.81 L1240.30 315.69 L1240.55 315.77 L1240.80 315.36 L1241.05 315.16 L1241.30 311.23 L1241.55 311.51 L1241.80 315.64 L1242.05 315.05 L1242.30 314.51 L1242.55 315.13 L1242.80 315.81 L1243.05 315.21 L1243.30 315.93 L1243.55 315.74 L1243.80 314.18 L1244.05 314.36 L1244.30 315.42 L1244.55 313.57 L1244.80 313.80 L1245.05 312.88 L1245.30 312.92 L1245.55 311.31 L1245.80 312.31 L1246.05 311.65 L1246.30 312.97 L1246.55 311.59 L1246.80 313.07 L1247.05 312.23 L1247.30 309.45 L1247.55 310.49 L1247.80 308.65 L1248.05 307.85 L1248.30 305.90 L1248.55 306.29 L1248.80 306.29 L1249.05 306.15 L1249.30 306.73 L1249.55 309.91 L1249.80 309.91 L1250.05 310.84 L1250.30 310.75 L1250.55 311.33 L1250.80 311.68 L1251.05 312.46 L1251.30 313.11 L1251.55 314.43 L1251.80 314.02 L1252.05 313.78 L1252.30 312.87 L1252.55 314.16 L1252.80 314.58 L1253.05 313.89 L1253.30 311.83 L1253.55 312.91 L1253.80 311.05 L1254.05 314.44 L1254.30 314.27 L1254.55 315.65 L1254.80 314.50 L1255.05 315.25 L1255.30 316.56 L1255.55 316.12 L1255.80 313.69 L1256.05 311.98 L1256.30 312.33 L1256.55 313.32 L1256.80 312.09 L1257.05 310.61 L1257.30 311.37 L1257.55 312.17 L1257.80 310.45 L1258.05 311.52 L1258.30 312.88 L1258.55 311.16 L1258.80 311.68 L1259.05 311.46 L1259.30 311.57 L1259.55 311.46 L1259.80 309.92 L1260.05 310.70 L1260.30 312.55 L1260.55 311.60 L1260.80 309.33 L1261.05 309.54 L1261.30 312.05 L1261.55 311.17 L1261.80 311.29 L1262.05 309.97 L1262.30 309.22 L1262.55 310.62 L1262.80 311.89 L1263.05 311.44 L1263.30 312.51 L1263.55 312.23 L1263.80 310.21 L1264.05 311.39 L1264.30 312.98 L1264.55 315.67 L1264.80 312.54 L1265.05 313.22 L1265.30 313.53 L1265.55 313.74 L1265.80 313.47 L1266.05 314.88 L1266.30 315.04 L1266.55 312.90 L1266.80 311.64 L1267.05 311.90 L1267.30 310.18 L1267.55 310.95 L1267.80 311.69 L1268.05 310.21 L1268.30 309.38 L1268.55 308.05 L1268.80 307.63 L1269.05 306.99 L1269.30 304.47 L1269.55 304.09 L1269.80 301.27 L1270.05 299.79 L1270.30 298.16 L1270.55 295.48 L1270.80 293.82 L1271.05 291.84 L1271.30 291.84 L1271.55 290.97 L1271.80 289.96 L1272.05 291.49 L1272.30 292.29 L1272.55 295.16 L1272.80 296.22 L1273.05 298.38 L1273.30 299.10 L1273.55 301.10 L1273.80 303.00 L1274.05 305.62 L1274.30 307.99 L1274.55 308.56 L1274.80 309.09 L1275.05 308.95 L1275.30 309.45 L1275.55 310.51 L1275.80 312.53 L1276.05 314.48 L1276.30 313.21 L1276.55 312.25 L1276.80 311.56 L1277.05 313.40 L1277.30 314.96 L1277.55 314.86 L1277.80 316.02 L1278.05 314.72 L1278.30 313.62 L1278.55 313.88 L1278.80 312.35 L1279.05 312.84 L1279.30 312.66 L1279.55 311.03 L1279.80 312.62 L1280.05 313.99 L1280.30 315.52 L1280.55 314.46 L1280.80 315.54 L1281.05 313.70 L1281.30 315.30 L1281.55 313.72 L1281.80 313.72 L1282.05 312.27 L1282.30 315.28 L1282.55 314.10 L1282.80 315.41 L1283.05 314.54 L1283.30 314.58 L1283.55 315.15 L1283.80 313.12 L1284.05 314.12 L1284.30 313.63 L1284.55 312.65 L1284.80 314.66 L1285.05 314.06 L1285.30 315.53 L1285.55 314.75 L1285.80 313.78 L1286.05 313.04 L1286.30 313.33 L1286.55 312.60 L1286.80 313.97 L1287.05 312.60 L1287.30 313.96 L1287.55 312.24 L1287.80 311.40 L1288.05 309.94 L1288.30 311.77 L1288.55 307.56 L1288.80 307.94 L1289.05 307.80 L1289.30 307.31 L1289.55 307.45 L1289.80 307.30 L1290.05 304.77 L1290.30 305.72 L1290.55 305.72 L1290.80 307.04 L1291.05 308.20 L1291.30 310.56 L1291.55 311.90 L1291.80 311.98 L1292.05 311.42 L1292.30 312.68 L1292.55 313.10 L1292.80 312.83 L1293.05 314.35 L1293.30 315.63 L1293.55 313.70 L1293.80 315.38 L1294.05 313.30 L1294.30 313.12 L1294.55 311.72 L1294.80 313.43 L1295.05 315.86 L1295.30 313.41 L1295.55 313.00 L1295.80 312.33 L1296.05 313.40 L1296.30 315.06 L1296.55 312.77 L1296.80 314.40 L1297.05 316.53 L1297.30 314.80 L1297.55 314.33 L1297.80 314.83 L1298.05 311.99 L1298.30 311.95 L1298.55 313.59 L1298.80 313.68 L1299.05 314.57 L1299.30 312.88 L1299.55 313.04 L1299.80 312.31 L1300.05 311.46 L1300.30 313.06 L1300.55 314.78 L1300.80 312.33 L1301.05 312.43 L1301.30 312.37 L1301.55 312.66 L1301.80 310.12 L1302.05 307.57 L1302.30 307.78 L1302.55 305.92 L1302.80 303.90 L1303.05 303.06 L1303.30 302.18 L1303.55 301.30 L1303.80 300.13 L1304.05 297.95 L1304.30 296.98 L1304.55 298.89 L1304.80 301.04 L1305.05 302.10 L1305.30 302.08 L1305.55 304.57 L1305.80 304.81 L1306.05 307.71 L1306.30 308.76 L1306.55 310.35 L1306.80 309.80 L1307.05 311.45 L1307.30 309.62 L1307.55 312.68 L1307.80 311.44 L1308.05 312.36 L1308.30 314.03 L1308.55 314.93 L1308.80 314.47 L1309.05 312.33 L1309.30 314.84 L1309.55 314.00 L1309.80 312.40 L1310.05 315.18 L1310.30 317.89 L1310.55 315.50 L1310.80 316.24 L1311.05 316.42 L1311.30 315.83 L1311.55 315.87 L1311.80 315.50 L1312.05 312.47 L1312.30 312.67 L1312.55 313.09 L1312.80 312.82 L1313.05 313.86 L1313.30 314.16 L1313.55 315.21 L1313.80 317.57 L1314.05 315.03 L1314.30 315.74 L1314.55 317.31 L1314.80 315.80 L1315.05 313.16 L1315.30 313.92 L1315.55 315.83 L1315.80 315.94 L1316.05 313.46 L1316.30 314.49 L1316.55 314.40 L1316.80 313.96 L1317.05 315.38 L1317.30 311.86 L1317.55 315.24 L1317.80 317.20 L1318.05 315.34 L1318.30 313.78 L1318.55 312.48 L1318.80 314.17 L1319.05 313.73 L1319.30 311.75 L1319.55 310.80 L1319.80 313.58 L1320.05 315.31 L1320.30 313.29 L1320.55 315.80 L1320.80 314.48 L1321.05 314.69 L1321.30 313.36 L1321.55 315.27 L1321.80 314.57 L1322.05 314.44 L1322.30 314.83 L1322.55 313.66 L1322.80 315.68 L1323.05 315.23 L1323.30 313.78 L1323.55 312.36 L1323.80 313.24 L1324.05 313.36 L1324.30 312.83 L1324.55 311.19 L1324.80 312.92 L1325.05 311.98 L1325.30 312.16 L1325.55 311.42 L1325.80 310.02 L1326.05 308.69 L1326.30 307.43 L1326.55 309.23 L1326.80 309.18 L1327.05 311.16 L1327.30 312.56 L1327.55 312.61 L1327.80 312.48 L1328.05 313.80 L1328.30 315.45 L1328.55 314.32 L1328.80 314.87 L1329.05 316.35 L1329.30 314.02 L1329.55 314.99 L1329.80 314.49 L1330.05 315.17 L1330.30 315.96 L1330.55 315.02 L1330.80 315.31 L1331.05 316.97 L1331.30 316.59 L1331.55 316.20 L1331.80 315.48 L1332.05 315.12 L1332.30 316.14 L1332.55 315.03 L1332.80 314.25 L1333.05 313.69 L1333.30 313.66 L1333.55 314.17 L1333.80 314.05 L1334.05 313.64 L1334.30 316.18 L1334.55 313.17 L1334.80 312.93 L1335.05 313.05 L1335.30 311.96 L1335.55 311.18 L1335.80 308.96 L1336.05 309.10 L1336.30 309.59 L1336.55 308.11 L1336.80 308.81 L1337.05 309.86 L1337.30 309.90 L1337.55 310.43 L1337.80 309.31 L1338.05 312.04 L1338.30 314.92 L1338.55 315.40 L1338.80 316.35 L1339.05 311.77 L1339.30 312.14 L1339.55 312.68 L1339.80 313.67 L1340.05 313.40 L1340.30 311.71 L1340.55 312.95 L1340.80 311.82 L1341.05 312.88 L1341.30 314.91 L1341.55 317.00 L1341.80 316.39 L1342.05 316.38 L1342.30 313.17 L1342.55 312.52 L1342.80 314.49 L1343.05 315.34 L1343.30 315.17 L1343.55 314.04 L1343.80 313.85 L1344.05 314.87 L1344.30 317.03 L1344.55 315.69 L1344.80 312.33 L1345.05 316.47 L1345.30 316.41 L1345.55 314.84 L1345.80 316.61 L1346.05 316.55" fill="none" stroke="#000" stroke-width="2.0" stroke-linejoin="round"/>
<text x="75.00" y="933.40" font-size="17" fill="#1e1e1e" stroke="#1e1e1e" stroke-width="0.45" text-anchor="middle" fill-opacity="0.95">20</text>
<text x="169.67" y="933.40" font-size="17" fill="#1e1e1e" stroke="#1e1e1e" stroke-width="0.45" text-anchor="middle" fill-opacity="0.95">30</text>
<text x="264.33" y="933.40" font-size="17" fill="#1e1e1e" stroke="#1e1e1e" stroke-width="0.45" text-anchor="middle" fill-opacity="0.95">40</text>
<text x="359.00" y="933.40" font-size="17" fill="#1e1e1e" stroke="#1e1e1e" stroke-width="0.45" text-anchor="middle" fill-opacity="0.95">50</text>
<text x="453.67" y="933.40" font-size="17" fill="#1e1e1e" stroke="#1e1e1e" stroke-width="0.45" text-anchor="middle" fill-opacity="0.95">60</text>
<text x="548.33" y="933.40" font-size="17" fill="#1e1e1e" stroke="#1e1e1e" stroke-width="0.45" text-anchor="middle" fill-opacity="0.95">70</text>
<text x="643.00" y="933.40" font-size="17" fill="#1e1e1e" stroke="#1e1e1e" stroke-width="0.45" text-anchor="middle" fill-opacity="0.95">80</text>
<text x="779.00" y="933.40" font-size="17" fill="#1e1e1e" stroke="#1e1e1e" stroke-width="0.45" text-anchor="middle" fill-opacity="0.95">20</text>
<text x="873.67" y="933.40" font-size="17" fill="#1e1e1e" stroke="#1e1e1e" stroke-width="0.45" text-anchor="middle" fill-opacity="0.95">30</text>
<text x="968.33" y="933.40" font-size="17" fill="#1e1e1e" stroke="#1e1e1e" stroke-width="0.45" text-anchor="middle" fill-opacity="0.95">40</text>
<text x="1063.00" y="933.40" font-size="17" fill="#1e1e1e" stroke="#1e1e1e" stroke-width="0.45" text-anchor="middle" fill-opacity="0.95">50</text>
<text x="1157.67" y="933.40" font-size="17" fill="#1e1e1e" stroke="#1e1e1e" stroke-width="0.45" text-anchor="middle" fill-opacity="0.95">60</text>
<text x="1252.33" y="933.40" font-size="17" fill="#1e1e1e" stroke="#1e1e1e" stroke-width="0.45" text-anchor="middle" fill-opacity="0.95">70</text>
<text x="1347.00" y="933.40" font-size="17" fill="#1e1e1e" stroke="#1e1e1e" stroke-width="0.45" text-anchor="middle" fill-opacity="0.95">80</text>
<text x="359.20" y="972.90" font-size="28" fill="#1e1e1e" stroke="#1e1e1e" stroke-width="0.45" text-anchor="middle">2θ (°)</text>
<text x="1064.30" y="974.90" font-size="28" fill="#1e1e1e" stroke="#1e1e1e" stroke-width="0.45" text-anchor="middle">2θ (°)</text>
<text x="38.40" y="459.20" font-size="28.4" fill="#1e1e1e" stroke="#1e1e1e" stroke-width="0.45" text-anchor="middle" transform="rotate(-90 38.40 459.20)">Intensity (a.u.)</text>
<text x="744.90" y="455.80" font-size="28.4" fill="#1e1e1e" stroke="#1e1e1e" stroke-width="0.45" text-anchor="middle" transform="rotate(-90 744.90 455.80)">Intensity (a.u.)</text>
<text x="585.00" y="79.30" font-size="28" fill="#1e1e1e" stroke="#1e1e1e" stroke-width="0.45" text-anchor="middle">(a)</text>
<text x="1295.30" y="78.60" font-size="28" fill="#1e1e1e" stroke="#1e1e1e" stroke-width="0.45" text-anchor="middle">(b)</text>
<text x="366.20" y="391.00" font-size="28.3" fill="#e0101c" stroke="#e0101c" stroke-width="0.45" text-anchor="start">JCPDS No. 33-0664</text>
<text x="1066.80" y="382.60" font-size="28.3" fill="#e0101c" stroke="#e0101c" stroke-width="0.45" text-anchor="start">JCPDS No. 33-0664</text>
<text x="367.50" y="688.20" font-size="28.3" fill="#1414dc" stroke="#1414dc" stroke-width="0.45" text-anchor="start">JCPDS No. 19-0629</text>
<text x="1069.20" y="685.40" font-size="28.3" fill="#1414dc" stroke="#1414dc" stroke-width="0.45" text-anchor="start">JCPDS No. 19-0629</text>
<text x="122.60" y="233.05" font-size="22" fill="#e0101c" stroke="#e0101c" stroke-width="0.45" text-anchor="middle" transform="rotate(-90 122.60 233.05)">(012)</text>
<text x="175.60" y="231.00" font-size="22" fill="#1414dc" stroke="#1414dc" stroke-width="0.45" text-anchor="middle" transform="rotate(-90 175.60 231.00)">(220)</text>
<text x="206.10" y="134.40" font-size="22" fill="#e0101c" stroke="#e0101c" stroke-width="0.45" text-anchor="middle" transform="rotate(-90 206.10 134.40)">(104)</text>
<text x="278.70" y="247.45" font-size="22" fill="#e0101c" stroke="#e0101c" stroke-width="0.45" text-anchor="middle" transform="rotate(-90 278.70 247.45)">(113)</text>
<text x="305.40" y="224.95" font-size="22" fill="#1414dc" stroke="#1414dc" stroke-width="0.45" text-anchor="middle" transform="rotate(-90 305.40 224.95)">(400)</text>
<text x="360.90" y="242.70" font-size="22" fill="#e0101c" stroke="#e0101c" stroke-width="0.45" text-anchor="middle" transform="rotate(-90 360.90 242.70)">(024)</text>
<text x="401.20" y="222.50" font-size="22" fill="#e0101c" stroke="#e0101c" stroke-width="0.45" text-anchor="middle" transform="rotate(-90 401.20 222.50)">(116)</text>
<text x="432.80" y="231.45" font-size="22" fill="#1414dc" stroke="#1414dc" stroke-width="0.45" text-anchor="middle" transform="rotate(-90 432.80 231.45)">(511)</text>
<text x="483.50" y="177.95" font-size="22" fill="#1414dc" stroke="#1414dc" stroke-width="0.45" text-anchor="middle" transform="rotate(-90 483.50 177.95)">(440)</text>
<text x="500.80" y="241.50" font-size="22" fill="#e0101c" stroke="#e0101c" stroke-width="0.45" text-anchor="middle" transform="rotate(-90 500.80 241.50)">(300)</text>
<text x="248.00" y="86.80" font-size="22" text-anchor="middle" stroke-width="0.45" transform="rotate(-90 248.00 86.80)"><tspan fill="#1414dc" stroke="#1414dc">(311</tspan><tspan fill="#1e1e1e" stroke="#1e1e1e">&amp;</tspan><tspan fill="#e0101c" stroke="#e0101c">110</tspan><tspan fill="#1414dc" stroke="#1414dc">)</tspan></text>
<text x="826.20" y="228.60" font-size="22" fill="#e0101c" stroke="#e0101c" stroke-width="0.45" text-anchor="middle" transform="rotate(-90 826.20 228.60)">(012)</text>
<text x="880.70" y="260.00" font-size="22" fill="#1414dc" stroke="#1414dc" stroke-width="0.45" text-anchor="middle" transform="rotate(-90 880.70 260.00)">(220)</text>
<text x="909.90" y="54.10" font-size="22" fill="#e0101c" stroke="#e0101c" stroke-width="0.45" text-anchor="middle" transform="rotate(-90 909.90 54.10)">(104)</text>
<text x="981.90" y="227.85" font-size="22" fill="#e0101c" stroke="#e0101c" stroke-width="0.45" text-anchor="middle" transform="rotate(-90 981.90 227.85)">(113)</text>
<text x="1004.90" y="265.30" font-size="22" fill="#1414dc" stroke="#1414dc" stroke-width="0.45" text-anchor="middle" transform="rotate(-90 1004.90 265.30)">(400)</text>
<text x="1064.40" y="207.80" font-size="22" fill="#e0101c" stroke="#e0101c" stroke-width="0.45" text-anchor="middle" transform="rotate(-90 1064.40 207.80)">(024)</text>
<text x="1108.30" y="187.95" font-size="22" fill="#e0101c" stroke="#e0101c" stroke-width="0.45" text-anchor="middle" transform="rotate(-90 1108.30 187.95)">(116)</text>
<text x="1136.10" y="250.20" font-size="22" fill="#1414dc" stroke="#1414dc" stroke-width="0.45" text-anchor="middle" transform="rotate(-90 1136.10 250.20)">(511)</text>
<text x="1185.90" y="192.25" font-size="22" fill="#1414dc" stroke="#1414dc" stroke-width="0.45" text-anchor="middle" transform="rotate(-90 1185.90 192.25)">(440)</text>
<text x="1207.90" y="218.60" font-size="22" fill="#e0101c" stroke="#e0101c" stroke-width="0.45" text-anchor="middle" transform="rotate(-90 1207.90 218.60)">(300)</text>
<text x="937.60" y="89.85" font-size="22" text-anchor="middle" stroke-width="0.45" transform="rotate(-90 937.60 89.85)"><tspan fill="#e0101c" stroke="#e0101c">(110</tspan><tspan fill="#1e1e1e" stroke="#1e1e1e">&amp;</tspan><tspan fill="#1414dc" stroke="#1414dc">311)</tspan></text>
</svg>
</body></html>
